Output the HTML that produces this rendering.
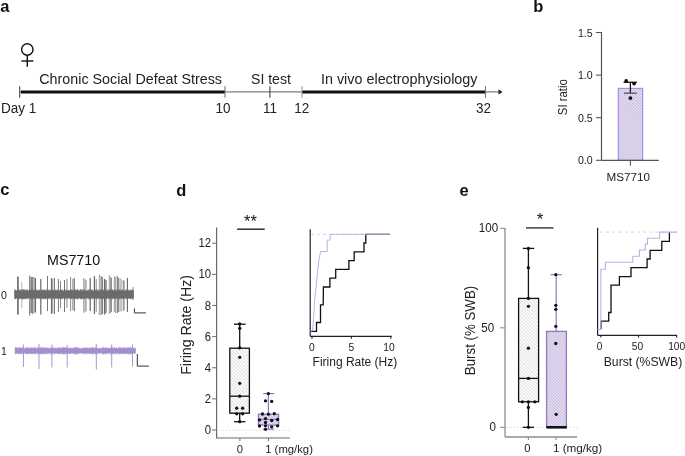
<!DOCTYPE html>
<html><head><meta charset="utf-8"><style>
html,body{margin:0;padding:0;background:#fff;}
body{width:685px;height:456px;overflow:hidden;}
svg{display:block;font-family:"Liberation Sans", sans-serif;will-change:transform;}
</style></head><body>
<svg width="685" height="456" viewBox="0 0 685 456">
<text transform="translate(0.2,11.8)" font-size="16.5" text-anchor="start" fill="#111" font-weight="bold" >a</text>
<text transform="translate(533.2,11.8)" font-size="16.5" text-anchor="start" fill="#111" font-weight="bold" >b</text>
<text transform="translate(0.2,194.6)" font-size="16.5" text-anchor="start" fill="#111" font-weight="bold" >c</text>
<text transform="translate(176.2,196.3)" font-size="16.5" text-anchor="start" fill="#111" font-weight="bold" >d</text>
<text transform="translate(459.6,195.8)" font-size="16.5" text-anchor="start" fill="#111" font-weight="bold" >e</text>
<circle cx="27.3" cy="49.5" r="5.7" fill="none" stroke="#111" stroke-width="1.4"/>
<line x1="27.3" y1="55.2" x2="27.3" y2="66.8" stroke="#111" stroke-width="1.4" />
<line x1="21.4" y1="61" x2="33.4" y2="61" stroke="#111" stroke-width="1.4" />
<line x1="19.7" y1="91.9" x2="500" y2="91.9" stroke="#7f7f7f" stroke-width="1.1" />
<path d="M498.5,89.3 L502.6,91.9 L498.5,94.5 Z" fill="#222"/>
<line x1="21" y1="92" x2="225" y2="92" stroke="#111" stroke-width="3.2" />
<line x1="302" y1="92" x2="485.5" y2="92" stroke="#111" stroke-width="3.2" />
<line x1="19.7" y1="86.3" x2="19.7" y2="97.7" stroke="#444" stroke-width="1.1" />
<line x1="225" y1="86.3" x2="225" y2="97.7" stroke="#777" stroke-width="1.1" />
<line x1="269.9" y1="86.3" x2="269.9" y2="97.7" stroke="#444" stroke-width="1.1" />
<line x1="302" y1="86.3" x2="302" y2="97.7" stroke="#999" stroke-width="1.1" />
<line x1="485.5" y1="86.3" x2="485.5" y2="97.7" stroke="#777" stroke-width="1.1" />
<text transform="translate(39.3,83.6) scale(0.98,1)" font-size="14.6" text-anchor="start" fill="#222" font-weight="normal" >Chronic Social Defeat Stress</text>
<text transform="translate(251.0,83.6) scale(0.965,1)" font-size="14.6" text-anchor="start" fill="#222" font-weight="normal" >SI test</text>
<text transform="translate(320.9,83.6) scale(0.985,1)" font-size="14.6" text-anchor="start" fill="#222" font-weight="normal" >In vivo electrophysiology</text>
<text transform="translate(0.9,113.2) scale(0.95,1)" font-size="14.3" text-anchor="start" fill="#222" font-weight="normal" >Day 1</text>
<text transform="translate(223.0,113.1) scale(0.93,1)" font-size="14.5" text-anchor="middle" fill="#222" font-weight="normal" >10</text>
<text transform="translate(269.9,113.1) scale(0.93,1)" font-size="14.5" text-anchor="middle" fill="#222" font-weight="normal" >11</text>
<text transform="translate(301.7,113.1) scale(0.93,1)" font-size="14.5" text-anchor="middle" fill="#222" font-weight="normal" >12</text>
<text transform="translate(483.5,113.1) scale(0.93,1)" font-size="14.5" text-anchor="middle" fill="#222" font-weight="normal" >32</text>
<defs><pattern id="hp" patternUnits="userSpaceOnUse" width="2.1" height="2.1" patternTransform="rotate(-45)"><rect width="2.1" height="2.1" fill="#e9e3f2"/><rect x="0" y="0" width="1.0" height="2.1" fill="#c8bae0"/></pattern><pattern id="hg" patternUnits="userSpaceOnUse" width="2.4" height="2.4" patternTransform="rotate(-45)"><rect width="2.4" height="2.4" fill="#fcfcfc"/><rect x="0" y="0" width="0.85" height="2.4" fill="#dedede"/></pattern></defs>
<rect x="618.3" y="88.4" width="24.3" height="71.9" fill="url(#hp)" stroke="#a58cf0" stroke-width="1.2"/>
<line x1="601.5" y1="32.1" x2="601.5" y2="160.3" stroke="#555" stroke-width="1.2" />
<line x1="601.5" y1="160.3" x2="658.8" y2="160.3" stroke="#555" stroke-width="1.2" />
<line x1="595.9" y1="32.5" x2="601.5" y2="32.5" stroke="#555" stroke-width="1.1" />
<text transform="translate(592.7,36.6)" font-size="10.6" text-anchor="end" fill="#222" font-weight="normal" >1.5</text>
<line x1="595.9" y1="75.10000000000001" x2="601.5" y2="75.10000000000001" stroke="#555" stroke-width="1.1" />
<text transform="translate(592.7,79.2)" font-size="10.6" text-anchor="end" fill="#222" font-weight="normal" >1.0</text>
<line x1="595.9" y1="117.70000000000002" x2="601.5" y2="117.70000000000002" stroke="#555" stroke-width="1.1" />
<text transform="translate(592.7,121.80000000000001)" font-size="10.6" text-anchor="end" fill="#222" font-weight="normal" >0.5</text>
<line x1="595.9" y1="160.3" x2="601.5" y2="160.3" stroke="#555" stroke-width="1.1" />
<text transform="translate(592.7,164.4)" font-size="10.6" text-anchor="end" fill="#222" font-weight="normal" >0.0</text>
<line x1="630.4" y1="160.3" x2="630.4" y2="165.8" stroke="#555" stroke-width="1.1" />
<line x1="630.4" y1="82.3" x2="630.4" y2="93.2" stroke="#111" stroke-width="1.2" />
<line x1="623.6" y1="82.3" x2="637" y2="82.3" stroke="#111" stroke-width="1.3" />
<line x1="624" y1="93.2" x2="636.8" y2="93.2" stroke="#555" stroke-width="1.3" />
<circle cx="626.2" cy="81" r="1.9" fill="#111"/>
<circle cx="634.1" cy="83.6" r="1.9" fill="#111"/>
<circle cx="630.4" cy="98.1" r="1.9" fill="#111"/>
<text transform="translate(628.3,181.2)" font-size="11.7" text-anchor="middle" fill="#222" font-weight="normal" >MS7710</text>
<text transform="translate(567.1,97.15) rotate(-90) scale(0.92,1)" font-size="12.4" text-anchor="middle" fill="#222" font-weight="normal" >SI ratio</text>
<text transform="translate(73.6,264.9)" font-size="14.3" text-anchor="middle" fill="#111" font-weight="normal" >MS7710</text>
<text transform="translate(1.0,299.4)" font-size="10.5" text-anchor="start" fill="#222" font-weight="normal" >0</text>
<text transform="translate(1.0,355.3)" font-size="10.5" text-anchor="start" fill="#222" font-weight="normal" >1</text>
<line x1="17.9" y1="276.5" x2="17.9" y2="314.4" stroke="#666" stroke-width="1.6" />
<line x1="21.8" y1="282" x2="21.8" y2="308.3" stroke="#b5b5b5" stroke-width="1" />
<line x1="29.7" y1="275.5" x2="29.7" y2="315.4" stroke="#777" stroke-width="1.1" />
<line x1="31.2" y1="277" x2="31.2" y2="313" stroke="#666" stroke-width="1.2" />
<line x1="32.6" y1="277" x2="32.6" y2="314" stroke="#8a8a8a" stroke-width="1.2" />
<line x1="34" y1="277" x2="34" y2="313" stroke="#999" stroke-width="1.2" />
<line x1="35.4" y1="278" x2="35.4" y2="312.5" stroke="#6a6a6a" stroke-width="1.3" />
<line x1="40.8" y1="279" x2="40.8" y2="314.5" stroke="#666" stroke-width="1.2" />
<line x1="47.5" y1="276" x2="47.5" y2="311" stroke="#777" stroke-width="1" />
<line x1="51.4" y1="278" x2="51.4" y2="314" stroke="#666" stroke-width="1" />
<line x1="52.6" y1="279" x2="52.6" y2="313" stroke="#999" stroke-width="1" />
<line x1="54.4" y1="278" x2="54.4" y2="314" stroke="#777" stroke-width="1.1" />
<line x1="58.4" y1="279" x2="58.4" y2="312" stroke="#777" stroke-width="1" />
<line x1="60.5" y1="281" x2="60.5" y2="308" stroke="#888" stroke-width="1" />
<line x1="64.5" y1="280" x2="64.5" y2="312" stroke="#777" stroke-width="1" />
<line x1="67" y1="279" x2="67" y2="308" stroke="#888" stroke-width="1" />
<line x1="70.6" y1="277" x2="70.6" y2="311" stroke="#888" stroke-width="1" />
<line x1="72.6" y1="279" x2="72.6" y2="310" stroke="#aaa" stroke-width="1" />
<line x1="74.2" y1="278" x2="74.2" y2="311" stroke="#666" stroke-width="1.2" />
<line x1="83.6" y1="278" x2="83.6" y2="313" stroke="#aaa" stroke-width="1.1" />
<line x1="85.1" y1="279" x2="85.1" y2="312" stroke="#888" stroke-width="1" />
<line x1="86.1" y1="280" x2="86.1" y2="311" stroke="#999" stroke-width="1" />
<line x1="90.2" y1="278" x2="90.2" y2="311" stroke="#666" stroke-width="1.2" />
<line x1="94.4" y1="276" x2="94.4" y2="314" stroke="#666" stroke-width="1.2" />
<line x1="96.2" y1="279" x2="96.2" y2="312" stroke="#888" stroke-width="1" />
<line x1="99.4" y1="274.5" x2="99.4" y2="315" stroke="#aaa" stroke-width="1.2" />
<line x1="101.1" y1="276" x2="101.1" y2="315" stroke="#8a8a8a" stroke-width="1.2" />
<line x1="102.3" y1="277" x2="102.3" y2="314" stroke="#777" stroke-width="1.2" />
<line x1="104.6" y1="279" x2="104.6" y2="314.5" stroke="#666" stroke-width="1.4" />
<line x1="106" y1="280" x2="106" y2="313" stroke="#6d6d6d" stroke-width="1.2" />
<line x1="109.4" y1="275" x2="109.4" y2="314" stroke="#b0b0b0" stroke-width="1.2" />
<line x1="110.6" y1="277" x2="110.6" y2="313" stroke="#999" stroke-width="1.1" />
<line x1="111.4" y1="278" x2="111.4" y2="312" stroke="#888" stroke-width="1" />
<line x1="114.4" y1="276" x2="114.4" y2="312" stroke="#b0b0b0" stroke-width="1.2" />
<line x1="115.3" y1="277" x2="115.3" y2="313" stroke="#999" stroke-width="1" />
<line x1="117.3" y1="276" x2="117.3" y2="313" stroke="#7a7a7a" stroke-width="1.2" />
<line x1="118.4" y1="278" x2="118.4" y2="312" stroke="#888" stroke-width="1" />
<line x1="120.0" y1="278" x2="120.0" y2="312" stroke="#b0b0b0" stroke-width="1.2" />
<line x1="121.2" y1="279" x2="121.2" y2="311" stroke="#aaa" stroke-width="1" />
<line x1="123.3" y1="280" x2="123.3" y2="311" stroke="#888" stroke-width="1.1" />
<line x1="124.2" y1="281" x2="124.2" y2="310" stroke="#999" stroke-width="1" />
<line x1="127.4" y1="278" x2="127.4" y2="312" stroke="#666" stroke-width="1.1" />
<line x1="133.0" y1="287" x2="133.0" y2="300" stroke="#888" stroke-width="1" />
<line x1="53.27" y1="290.37" x2="53.27" y2="298.38" stroke="#6e6e6e" stroke-width="0.5" />
<line x1="92.13" y1="290.49" x2="92.13" y2="298.29" stroke="#6e6e6e" stroke-width="0.5" />
<line x1="78.46" y1="290.05" x2="78.46" y2="298.64" stroke="#6e6e6e" stroke-width="0.5" />
<line x1="21.69" y1="289.84" x2="21.69" y2="298.81" stroke="#6e6e6e" stroke-width="0.5" />
<line x1="19.25" y1="289.95" x2="19.25" y2="298.72" stroke="#6e6e6e" stroke-width="0.5" />
<line x1="23.1" y1="290.46" x2="23.1" y2="298.31" stroke="#6e6e6e" stroke-width="0.5" />
<line x1="65.23" y1="289.36" x2="65.23" y2="299.19" stroke="#6e6e6e" stroke-width="0.5" />
<line x1="29.51" y1="290.27" x2="29.51" y2="298.47" stroke="#6e6e6e" stroke-width="0.5" />
<line x1="89.34" y1="289.18" x2="89.34" y2="299.34" stroke="#6e6e6e" stroke-width="0.5" />
<line x1="83.36" y1="290.0" x2="83.36" y2="298.68" stroke="#6e6e6e" stroke-width="0.5" />
<line x1="130.78" y1="290.53" x2="130.78" y2="298.26" stroke="#6e6e6e" stroke-width="0.5" />
<line x1="116.79" y1="290.17" x2="116.79" y2="298.55" stroke="#6e6e6e" stroke-width="0.5" />
<line x1="31.94" y1="290.42" x2="31.94" y2="298.34" stroke="#6e6e6e" stroke-width="0.5" />
<line x1="51.45" y1="289.38" x2="51.45" y2="299.18" stroke="#6e6e6e" stroke-width="0.5" />
<line x1="36.27" y1="289.73" x2="36.27" y2="298.9" stroke="#6e6e6e" stroke-width="0.5" />
<line x1="90.7" y1="290.04" x2="90.7" y2="298.65" stroke="#6e6e6e" stroke-width="0.5" />
<line x1="79.87" y1="290.51" x2="79.87" y2="298.28" stroke="#6e6e6e" stroke-width="0.5" />
<line x1="21.88" y1="290.29" x2="21.88" y2="298.45" stroke="#6e6e6e" stroke-width="0.5" />
<line x1="95.63" y1="289.96" x2="95.63" y2="298.71" stroke="#6e6e6e" stroke-width="0.5" />
<line x1="52.12" y1="289.72" x2="52.12" y2="298.9" stroke="#6e6e6e" stroke-width="0.5" />
<line x1="68.64" y1="290.15" x2="68.64" y2="298.56" stroke="#6e6e6e" stroke-width="0.5" />
<line x1="109.17" y1="289.55" x2="109.17" y2="299.04" stroke="#6e6e6e" stroke-width="0.5" />
<line x1="43.8" y1="289.74" x2="43.8" y2="298.89" stroke="#6e6e6e" stroke-width="0.5" />
<line x1="77.19" y1="289.29" x2="77.19" y2="299.25" stroke="#6e6e6e" stroke-width="0.5" />
<line x1="101.46" y1="290.17" x2="101.46" y2="298.55" stroke="#6e6e6e" stroke-width="0.5" />
<line x1="131.24" y1="290.42" x2="131.24" y2="298.34" stroke="#6e6e6e" stroke-width="0.5" />
<line x1="64.47" y1="289.46" x2="64.47" y2="299.11" stroke="#6e6e6e" stroke-width="0.5" />
<line x1="32.86" y1="289.87" x2="32.86" y2="298.79" stroke="#6e6e6e" stroke-width="0.5" />
<line x1="19.46" y1="289.6" x2="19.46" y2="299.0" stroke="#6e6e6e" stroke-width="0.5" />
<line x1="105.63" y1="289.74" x2="105.63" y2="298.89" stroke="#6e6e6e" stroke-width="0.5" />
<line x1="118.81" y1="290.13" x2="118.81" y2="298.58" stroke="#6e6e6e" stroke-width="0.5" />
<line x1="97.4" y1="289.71" x2="97.4" y2="298.91" stroke="#6e6e6e" stroke-width="0.5" />
<line x1="83.69" y1="289.92" x2="83.69" y2="298.75" stroke="#6e6e6e" stroke-width="0.5" />
<line x1="114.59" y1="289.18" x2="114.59" y2="299.33" stroke="#6e6e6e" stroke-width="0.5" />
<line x1="71.12" y1="289.6" x2="71.12" y2="299.0" stroke="#6e6e6e" stroke-width="0.5" />
<line x1="22.01" y1="289.55" x2="22.01" y2="299.04" stroke="#6e6e6e" stroke-width="0.5" />
<line x1="91.68" y1="289.11" x2="91.68" y2="299.39" stroke="#6e6e6e" stroke-width="0.5" />
<line x1="112.44" y1="290.17" x2="112.44" y2="298.54" stroke="#6e6e6e" stroke-width="0.5" />
<line x1="60.63" y1="289.6" x2="60.63" y2="299.0" stroke="#6e6e6e" stroke-width="0.5" />
<line x1="17.48" y1="289.91" x2="17.48" y2="298.75" stroke="#6e6e6e" stroke-width="0.5" />
<line x1="34.76" y1="290.42" x2="34.76" y2="298.34" stroke="#6e6e6e" stroke-width="0.5" />
<line x1="21.8" y1="289.45" x2="21.8" y2="299.12" stroke="#6e6e6e" stroke-width="0.5" />
<line x1="30.17" y1="290.23" x2="30.17" y2="298.5" stroke="#6e6e6e" stroke-width="0.5" />
<line x1="61.24" y1="289.29" x2="61.24" y2="299.25" stroke="#6e6e6e" stroke-width="0.5" />
<line x1="24.37" y1="289.93" x2="24.37" y2="298.74" stroke="#6e6e6e" stroke-width="0.5" />
<line x1="80.07" y1="289.27" x2="80.07" y2="299.26" stroke="#6e6e6e" stroke-width="0.5" />
<line x1="112.13" y1="289.3" x2="112.13" y2="299.24" stroke="#6e6e6e" stroke-width="0.5" />
<line x1="47.88" y1="289.98" x2="47.88" y2="298.7" stroke="#6e6e6e" stroke-width="0.5" />
<line x1="57.42" y1="289.27" x2="57.42" y2="299.26" stroke="#6e6e6e" stroke-width="0.5" />
<line x1="128.58" y1="290.37" x2="128.58" y2="298.38" stroke="#6e6e6e" stroke-width="0.5" />
<line x1="35.73" y1="290.25" x2="35.73" y2="298.48" stroke="#6e6e6e" stroke-width="0.5" />
<line x1="42.52" y1="289.87" x2="42.52" y2="298.78" stroke="#6e6e6e" stroke-width="0.5" />
<line x1="84.79" y1="290.21" x2="84.79" y2="298.52" stroke="#6e6e6e" stroke-width="0.5" />
<line x1="15.29" y1="289.97" x2="15.29" y2="298.7" stroke="#6e6e6e" stroke-width="0.5" />
<line x1="58.67" y1="289.75" x2="58.67" y2="298.88" stroke="#6e6e6e" stroke-width="0.5" />
<line x1="128.03" y1="289.56" x2="128.03" y2="299.03" stroke="#6e6e6e" stroke-width="0.5" />
<line x1="76.04" y1="289.67" x2="76.04" y2="298.94" stroke="#6e6e6e" stroke-width="0.5" />
<line x1="95.13" y1="290.52" x2="95.13" y2="298.26" stroke="#6e6e6e" stroke-width="0.5" />
<line x1="121.66" y1="289.43" x2="121.66" y2="299.14" stroke="#6e6e6e" stroke-width="0.5" />
<line x1="118.69" y1="289.4" x2="118.69" y2="299.16" stroke="#6e6e6e" stroke-width="0.5" />
<line x1="61.41" y1="290.0" x2="61.41" y2="298.68" stroke="#6e6e6e" stroke-width="0.5" />
<line x1="27.1" y1="289.65" x2="27.1" y2="298.96" stroke="#6e6e6e" stroke-width="0.5" />
<line x1="22.2" y1="290.5" x2="22.2" y2="298.28" stroke="#6e6e6e" stroke-width="0.5" />
<line x1="39.6" y1="290.36" x2="39.6" y2="298.39" stroke="#6e6e6e" stroke-width="0.5" />
<line x1="55.2" y1="290.52" x2="55.2" y2="298.26" stroke="#6e6e6e" stroke-width="0.5" />
<line x1="14.83" y1="290.37" x2="14.83" y2="298.38" stroke="#6e6e6e" stroke-width="0.5" />
<line x1="26.85" y1="290.05" x2="26.85" y2="298.64" stroke="#6e6e6e" stroke-width="0.5" />
<line x1="17.83" y1="289.29" x2="17.83" y2="299.25" stroke="#6e6e6e" stroke-width="0.5" />
<line x1="87.75" y1="290.38" x2="87.75" y2="298.38" stroke="#6e6e6e" stroke-width="0.5" />
<line x1="44.77" y1="290.08" x2="44.77" y2="298.62" stroke="#6e6e6e" stroke-width="0.5" />
<line x1="58.06" y1="290.42" x2="58.06" y2="298.35" stroke="#6e6e6e" stroke-width="0.5" />
<line x1="115.65" y1="289.11" x2="115.65" y2="299.39" stroke="#6e6e6e" stroke-width="0.5" />
<line x1="70.16" y1="289.87" x2="70.16" y2="298.78" stroke="#6e6e6e" stroke-width="0.5" />
<line x1="25.0" y1="290.45" x2="25.0" y2="298.32" stroke="#6e6e6e" stroke-width="0.5" />
<line x1="55.51" y1="290.2" x2="55.51" y2="298.52" stroke="#6e6e6e" stroke-width="0.5" />
<line x1="113.27" y1="290.36" x2="113.27" y2="298.39" stroke="#6e6e6e" stroke-width="0.5" />
<line x1="17.54" y1="289.17" x2="17.54" y2="299.34" stroke="#6e6e6e" stroke-width="0.5" />
<line x1="77.56" y1="290.38" x2="77.56" y2="298.38" stroke="#6e6e6e" stroke-width="0.5" />
<line x1="79.33" y1="290.56" x2="79.33" y2="298.23" stroke="#6e6e6e" stroke-width="0.5" />
<line x1="77.54" y1="289.13" x2="77.54" y2="299.37" stroke="#6e6e6e" stroke-width="0.5" />
<line x1="117.36" y1="289.56" x2="117.36" y2="299.04" stroke="#6e6e6e" stroke-width="0.5" />
<line x1="45.82" y1="290.05" x2="45.82" y2="298.64" stroke="#6e6e6e" stroke-width="0.5" />
<line x1="34.64" y1="289.44" x2="34.64" y2="299.13" stroke="#6e6e6e" stroke-width="0.5" />
<line x1="78.07" y1="289.43" x2="78.07" y2="299.13" stroke="#6e6e6e" stroke-width="0.5" />
<line x1="53.96" y1="290.27" x2="53.96" y2="298.47" stroke="#6e6e6e" stroke-width="0.5" />
<line x1="111.21" y1="289.12" x2="111.21" y2="299.38" stroke="#6e6e6e" stroke-width="0.5" />
<line x1="116.09" y1="289.39" x2="116.09" y2="299.17" stroke="#6e6e6e" stroke-width="0.5" />
<line x1="112.02" y1="289.49" x2="112.02" y2="299.09" stroke="#6e6e6e" stroke-width="0.5" />
<line x1="41.74" y1="289.82" x2="41.74" y2="298.82" stroke="#6e6e6e" stroke-width="0.5" />
<line x1="57.04" y1="290.56" x2="57.04" y2="298.23" stroke="#6e6e6e" stroke-width="0.5" />
<line x1="18.12" y1="290.18" x2="18.12" y2="298.54" stroke="#6e6e6e" stroke-width="0.5" />
<line x1="45.59" y1="289.56" x2="45.59" y2="299.03" stroke="#6e6e6e" stroke-width="0.5" />
<line x1="128.43" y1="289.93" x2="128.43" y2="298.74" stroke="#6e6e6e" stroke-width="0.5" />
<line x1="126.12" y1="289.12" x2="126.12" y2="299.39" stroke="#6e6e6e" stroke-width="0.5" />
<line x1="128.25" y1="290.05" x2="128.25" y2="298.64" stroke="#6e6e6e" stroke-width="0.5" />
<line x1="40.99" y1="290.26" x2="40.99" y2="298.47" stroke="#6e6e6e" stroke-width="0.5" />
<line x1="38.17" y1="290.29" x2="38.17" y2="298.45" stroke="#6e6e6e" stroke-width="0.5" />
<line x1="88.94" y1="289.25" x2="88.94" y2="299.28" stroke="#6e6e6e" stroke-width="0.5" />
<line x1="114.64" y1="289.88" x2="114.64" y2="298.78" stroke="#6e6e6e" stroke-width="0.5" />
<line x1="92.37" y1="289.4" x2="92.37" y2="299.16" stroke="#6e6e6e" stroke-width="0.5" />
<line x1="24.87" y1="289.61" x2="24.87" y2="298.99" stroke="#6e6e6e" stroke-width="0.5" />
<line x1="122.88" y1="289.43" x2="122.88" y2="299.14" stroke="#6e6e6e" stroke-width="0.5" />
<line x1="103.92" y1="289.88" x2="103.92" y2="298.77" stroke="#6e6e6e" stroke-width="0.5" />
<line x1="36.01" y1="289.42" x2="36.01" y2="299.15" stroke="#6e6e6e" stroke-width="0.5" />
<line x1="54.3" y1="289.4" x2="54.3" y2="299.16" stroke="#6e6e6e" stroke-width="0.5" />
<line x1="130.23" y1="290.01" x2="130.23" y2="298.68" stroke="#6e6e6e" stroke-width="0.5" />
<line x1="62.48" y1="289.18" x2="62.48" y2="299.34" stroke="#6e6e6e" stroke-width="0.5" />
<line x1="100.91" y1="290.34" x2="100.91" y2="298.4" stroke="#6e6e6e" stroke-width="0.5" />
<line x1="29.89" y1="290.37" x2="29.89" y2="298.38" stroke="#6e6e6e" stroke-width="0.5" />
<line x1="122.3" y1="289.39" x2="122.3" y2="299.17" stroke="#6e6e6e" stroke-width="0.5" />
<line x1="32.17" y1="289.36" x2="32.17" y2="299.19" stroke="#6e6e6e" stroke-width="0.5" />
<line x1="131.26" y1="289.61" x2="131.26" y2="298.99" stroke="#6e6e6e" stroke-width="0.5" />
<line x1="56.43" y1="289.78" x2="56.43" y2="298.86" stroke="#6e6e6e" stroke-width="0.5" />
<line x1="30.36" y1="290.58" x2="30.36" y2="298.22" stroke="#6e6e6e" stroke-width="0.5" />
<line x1="130.14" y1="289.63" x2="130.14" y2="298.98" stroke="#6e6e6e" stroke-width="0.5" />
<line x1="77.36" y1="289.2" x2="77.36" y2="299.32" stroke="#6e6e6e" stroke-width="0.5" />
<line x1="66.34" y1="289.29" x2="66.34" y2="299.25" stroke="#6e6e6e" stroke-width="0.5" />
<line x1="112.95" y1="290.28" x2="112.95" y2="298.45" stroke="#6e6e6e" stroke-width="0.5" />
<line x1="44.72" y1="290.16" x2="44.72" y2="298.55" stroke="#6e6e6e" stroke-width="0.5" />
<line x1="43.38" y1="289.72" x2="43.38" y2="298.9" stroke="#6e6e6e" stroke-width="0.5" />
<line x1="45.61" y1="289.97" x2="45.61" y2="298.7" stroke="#6e6e6e" stroke-width="0.5" />
<line x1="30.37" y1="289.23" x2="30.37" y2="299.29" stroke="#6e6e6e" stroke-width="0.5" />
<line x1="56.83" y1="289.91" x2="56.83" y2="298.75" stroke="#6e6e6e" stroke-width="0.5" />
<line x1="84.1" y1="289.24" x2="84.1" y2="299.29" stroke="#6e6e6e" stroke-width="0.5" />
<line x1="64.77" y1="289.22" x2="64.77" y2="299.3" stroke="#6e6e6e" stroke-width="0.5" />
<line x1="74.4" y1="289.8" x2="74.4" y2="298.84" stroke="#6e6e6e" stroke-width="0.5" />
<line x1="76.99" y1="290.57" x2="76.99" y2="298.22" stroke="#6e6e6e" stroke-width="0.5" />
<line x1="67.09" y1="290.33" x2="67.09" y2="298.42" stroke="#6e6e6e" stroke-width="0.5" />
<line x1="15.27" y1="289.4" x2="15.27" y2="299.16" stroke="#6e6e6e" stroke-width="0.5" />
<line x1="35.27" y1="289.89" x2="35.27" y2="298.77" stroke="#6e6e6e" stroke-width="0.5" />
<line x1="100.95" y1="289.77" x2="100.95" y2="298.87" stroke="#6e6e6e" stroke-width="0.5" />
<line x1="53.53" y1="289.82" x2="53.53" y2="298.82" stroke="#6e6e6e" stroke-width="0.5" />
<line x1="80.79" y1="289.42" x2="80.79" y2="299.14" stroke="#6e6e6e" stroke-width="0.5" />
<line x1="27.41" y1="289.76" x2="27.41" y2="298.87" stroke="#6e6e6e" stroke-width="0.5" />
<line x1="44.32" y1="290.18" x2="44.32" y2="298.53" stroke="#6e6e6e" stroke-width="0.5" />
<line x1="106.54" y1="289.84" x2="106.54" y2="298.81" stroke="#6e6e6e" stroke-width="0.5" />
<line x1="81.53" y1="289.46" x2="81.53" y2="299.11" stroke="#6e6e6e" stroke-width="0.5" />
<line x1="123.2" y1="289.94" x2="123.2" y2="298.73" stroke="#6e6e6e" stroke-width="0.5" />
<line x1="87.57" y1="289.84" x2="87.57" y2="298.81" stroke="#6e6e6e" stroke-width="0.5" />
<line x1="75.64" y1="289.56" x2="75.64" y2="299.03" stroke="#6e6e6e" stroke-width="0.5" />
<line x1="68.54" y1="289.8" x2="68.54" y2="298.84" stroke="#6e6e6e" stroke-width="0.5" />
<line x1="71.59" y1="289.19" x2="71.59" y2="299.33" stroke="#6e6e6e" stroke-width="0.5" />
<line x1="97.87" y1="289.29" x2="97.87" y2="299.25" stroke="#6e6e6e" stroke-width="0.5" />
<line x1="126.73" y1="290.21" x2="126.73" y2="298.51" stroke="#6e6e6e" stroke-width="0.5" />
<line x1="81.27" y1="289.19" x2="81.27" y2="299.33" stroke="#6e6e6e" stroke-width="0.5" />
<line x1="114.59" y1="290.39" x2="114.59" y2="298.36" stroke="#6e6e6e" stroke-width="0.5" />
<line x1="29.25" y1="289.94" x2="29.25" y2="298.73" stroke="#6e6e6e" stroke-width="0.5" />
<line x1="23.42" y1="290.24" x2="23.42" y2="298.49" stroke="#6e6e6e" stroke-width="0.5" />
<line x1="23.49" y1="289.6" x2="23.49" y2="299.0" stroke="#6e6e6e" stroke-width="0.5" />
<line x1="107.93" y1="289.25" x2="107.93" y2="299.28" stroke="#6e6e6e" stroke-width="0.5" />
<line x1="33.15" y1="289.53" x2="33.15" y2="299.06" stroke="#6e6e6e" stroke-width="0.5" />
<line x1="93.24" y1="290.39" x2="93.24" y2="298.37" stroke="#6e6e6e" stroke-width="0.5" />
<line x1="119.68" y1="289.15" x2="119.68" y2="299.36" stroke="#6e6e6e" stroke-width="0.5" />
<line x1="40.89" y1="289.17" x2="40.89" y2="299.34" stroke="#6e6e6e" stroke-width="0.5" />
<line x1="62.11" y1="289.87" x2="62.11" y2="298.78" stroke="#6e6e6e" stroke-width="0.5" />
<line x1="132.4" y1="289.35" x2="132.4" y2="299.2" stroke="#6e6e6e" stroke-width="0.5" />
<line x1="33.98" y1="289.95" x2="33.98" y2="298.72" stroke="#6e6e6e" stroke-width="0.5" />
<line x1="76.05" y1="290.09" x2="76.05" y2="298.61" stroke="#6e6e6e" stroke-width="0.5" />
<line x1="38.05" y1="290.12" x2="38.05" y2="298.58" stroke="#6e6e6e" stroke-width="0.5" />
<line x1="100.59" y1="290.57" x2="100.59" y2="298.22" stroke="#6e6e6e" stroke-width="0.5" />
<line x1="80.62" y1="289.94" x2="80.62" y2="298.73" stroke="#6e6e6e" stroke-width="0.5" />
<line x1="16.95" y1="290.1" x2="16.95" y2="298.6" stroke="#6e6e6e" stroke-width="0.5" />
<line x1="88.92" y1="289.83" x2="88.92" y2="298.81" stroke="#6e6e6e" stroke-width="0.5" />
<line x1="22.44" y1="289.12" x2="22.44" y2="299.38" stroke="#6e6e6e" stroke-width="0.5" />
<line x1="108.46" y1="289.14" x2="108.46" y2="299.37" stroke="#6e6e6e" stroke-width="0.5" />
<line x1="27.25" y1="290.2" x2="27.25" y2="298.52" stroke="#6e6e6e" stroke-width="0.5" />
<line x1="19.5" y1="289.43" x2="19.5" y2="299.13" stroke="#6e6e6e" stroke-width="0.5" />
<line x1="46.93" y1="290.41" x2="46.93" y2="298.36" stroke="#6e6e6e" stroke-width="0.5" />
<line x1="64.96" y1="289.23" x2="64.96" y2="299.29" stroke="#6e6e6e" stroke-width="0.5" />
<line x1="112.09" y1="290.21" x2="112.09" y2="298.51" stroke="#6e6e6e" stroke-width="0.5" />
<line x1="32.54" y1="289.22" x2="32.54" y2="299.3" stroke="#6e6e6e" stroke-width="0.5" />
<line x1="82.59" y1="289.55" x2="82.59" y2="299.04" stroke="#6e6e6e" stroke-width="0.5" />
<line x1="25.43" y1="290.51" x2="25.43" y2="298.27" stroke="#6e6e6e" stroke-width="0.5" />
<line x1="96.56" y1="289.96" x2="96.56" y2="298.71" stroke="#6e6e6e" stroke-width="0.5" />
<line x1="23.4" y1="289.19" x2="23.4" y2="299.33" stroke="#6e6e6e" stroke-width="0.5" />
<line x1="90.17" y1="289.4" x2="90.17" y2="299.16" stroke="#6e6e6e" stroke-width="0.5" />
<line x1="24.75" y1="289.32" x2="24.75" y2="299.23" stroke="#6e6e6e" stroke-width="0.5" />
<line x1="22.71" y1="289.31" x2="22.71" y2="299.24" stroke="#6e6e6e" stroke-width="0.5" />
<line x1="68.71" y1="290.09" x2="68.71" y2="298.61" stroke="#6e6e6e" stroke-width="0.5" />
<line x1="80.5" y1="289.21" x2="80.5" y2="299.31" stroke="#6e6e6e" stroke-width="0.5" />
<line x1="46.62" y1="290.41" x2="46.62" y2="298.36" stroke="#6e6e6e" stroke-width="0.5" />
<line x1="77.4" y1="290.24" x2="77.4" y2="298.49" stroke="#6e6e6e" stroke-width="0.5" />
<line x1="27.8" y1="290.36" x2="27.8" y2="298.39" stroke="#6e6e6e" stroke-width="0.5" />
<line x1="20.79" y1="290.3" x2="20.79" y2="298.44" stroke="#6e6e6e" stroke-width="0.5" />
<line x1="51.86" y1="290.14" x2="51.86" y2="298.57" stroke="#6e6e6e" stroke-width="0.5" />
<line x1="105.03" y1="290.17" x2="105.03" y2="298.55" stroke="#6e6e6e" stroke-width="0.5" />
<line x1="74.21" y1="290.33" x2="74.21" y2="298.41" stroke="#6e6e6e" stroke-width="0.5" />
<line x1="56.02" y1="290.57" x2="56.02" y2="298.22" stroke="#6e6e6e" stroke-width="0.5" />
<line x1="44.55" y1="290.58" x2="44.55" y2="298.22" stroke="#6e6e6e" stroke-width="0.5" />
<line x1="101.89" y1="289.77" x2="101.89" y2="298.86" stroke="#6e6e6e" stroke-width="0.5" />
<line x1="37.31" y1="289.89" x2="37.31" y2="298.77" stroke="#6e6e6e" stroke-width="0.5" />
<line x1="125.84" y1="290.44" x2="125.84" y2="298.33" stroke="#6e6e6e" stroke-width="0.5" />
<line x1="112.09" y1="289.95" x2="112.09" y2="298.72" stroke="#6e6e6e" stroke-width="0.5" />
<line x1="73.61" y1="289.35" x2="73.61" y2="299.2" stroke="#6e6e6e" stroke-width="0.5" />
<line x1="61.5" y1="289.84" x2="61.5" y2="298.81" stroke="#6e6e6e" stroke-width="0.5" />
<line x1="96.5" y1="289.13" x2="96.5" y2="299.38" stroke="#6e6e6e" stroke-width="0.5" />
<line x1="55.51" y1="289.35" x2="55.51" y2="299.2" stroke="#6e6e6e" stroke-width="0.5" />
<line x1="98.76" y1="289.65" x2="98.76" y2="298.96" stroke="#6e6e6e" stroke-width="0.5" />
<line x1="62.88" y1="290.08" x2="62.88" y2="298.62" stroke="#6e6e6e" stroke-width="0.5" />
<line x1="21.26" y1="290.41" x2="21.26" y2="298.36" stroke="#6e6e6e" stroke-width="0.5" />
<line x1="23.2" y1="289.49" x2="23.2" y2="299.09" stroke="#6e6e6e" stroke-width="0.5" />
<line x1="45.16" y1="290.36" x2="45.16" y2="298.4" stroke="#6e6e6e" stroke-width="0.5" />
<line x1="24.84" y1="289.34" x2="24.84" y2="299.21" stroke="#6e6e6e" stroke-width="0.5" />
<line x1="118.22" y1="289.59" x2="118.22" y2="299.0" stroke="#6e6e6e" stroke-width="0.5" />
<line x1="48.29" y1="290.24" x2="48.29" y2="298.49" stroke="#6e6e6e" stroke-width="0.5" />
<line x1="49.62" y1="289.91" x2="49.62" y2="298.75" stroke="#6e6e6e" stroke-width="0.5" />
<line x1="33.51" y1="289.93" x2="33.51" y2="298.73" stroke="#6e6e6e" stroke-width="0.5" />
<line x1="46.07" y1="289.16" x2="46.07" y2="299.35" stroke="#6e6e6e" stroke-width="0.5" />
<line x1="130.35" y1="289.78" x2="130.35" y2="298.86" stroke="#6e6e6e" stroke-width="0.5" />
<line x1="43.84" y1="289.15" x2="43.84" y2="299.36" stroke="#6e6e6e" stroke-width="0.5" />
<line x1="51.57" y1="290.07" x2="51.57" y2="298.63" stroke="#6e6e6e" stroke-width="0.5" />
<line x1="14.93" y1="290.03" x2="14.93" y2="298.66" stroke="#6e6e6e" stroke-width="0.5" />
<line x1="71.19" y1="289.85" x2="71.19" y2="298.8" stroke="#6e6e6e" stroke-width="0.5" />
<line x1="38.68" y1="289.84" x2="38.68" y2="298.81" stroke="#6e6e6e" stroke-width="0.5" />
<line x1="15.39" y1="290.2" x2="15.39" y2="298.52" stroke="#6e6e6e" stroke-width="0.5" />
<line x1="25.46" y1="290.0" x2="25.46" y2="298.68" stroke="#6e6e6e" stroke-width="0.5" />
<line x1="19.75" y1="290.57" x2="19.75" y2="298.23" stroke="#6e6e6e" stroke-width="0.5" />
<line x1="50.94" y1="290.25" x2="50.94" y2="298.48" stroke="#6e6e6e" stroke-width="0.5" />
<line x1="84.37" y1="289.81" x2="84.37" y2="298.84" stroke="#6e6e6e" stroke-width="0.5" />
<line x1="103.96" y1="289.61" x2="103.96" y2="298.99" stroke="#6e6e6e" stroke-width="0.5" />
<line x1="99.86" y1="289.28" x2="99.86" y2="299.25" stroke="#6e6e6e" stroke-width="0.5" />
<line x1="61.07" y1="290.11" x2="61.07" y2="298.59" stroke="#6e6e6e" stroke-width="0.5" />
<line x1="131.79" y1="290.38" x2="131.79" y2="298.38" stroke="#6e6e6e" stroke-width="0.5" />
<line x1="100.83" y1="289.64" x2="100.83" y2="298.97" stroke="#6e6e6e" stroke-width="0.5" />
<line x1="20.0" y1="289.35" x2="20.0" y2="299.2" stroke="#6e6e6e" stroke-width="0.5" />
<line x1="120.76" y1="289.66" x2="120.76" y2="298.95" stroke="#6e6e6e" stroke-width="0.5" />
<line x1="101.98" y1="289.38" x2="101.98" y2="299.17" stroke="#6e6e6e" stroke-width="0.5" />
<line x1="31.35" y1="289.81" x2="31.35" y2="298.83" stroke="#6e6e6e" stroke-width="0.5" />
<line x1="74.72" y1="289.35" x2="74.72" y2="299.2" stroke="#6e6e6e" stroke-width="0.5" />
<line x1="110.4" y1="289.36" x2="110.4" y2="299.19" stroke="#6e6e6e" stroke-width="0.5" />
<line x1="84.19" y1="289.26" x2="84.19" y2="299.27" stroke="#6e6e6e" stroke-width="0.5" />
<line x1="95.93" y1="289.56" x2="95.93" y2="299.03" stroke="#6e6e6e" stroke-width="0.5" />
<line x1="42.12" y1="290.55" x2="42.12" y2="298.24" stroke="#6e6e6e" stroke-width="0.5" />
<line x1="30.61" y1="290.06" x2="30.61" y2="298.63" stroke="#6e6e6e" stroke-width="0.5" />
<line x1="27.26" y1="289.35" x2="27.26" y2="299.2" stroke="#6e6e6e" stroke-width="0.5" />
<line x1="81.15" y1="289.66" x2="81.15" y2="298.95" stroke="#6e6e6e" stroke-width="0.5" />
<line x1="89.2" y1="289.58" x2="89.2" y2="299.02" stroke="#6e6e6e" stroke-width="0.5" />
<line x1="72.93" y1="290.6" x2="72.93" y2="298.2" stroke="#6e6e6e" stroke-width="0.5" />
<line x1="109.57" y1="289.48" x2="109.57" y2="299.1" stroke="#6e6e6e" stroke-width="0.5" />
<line x1="74.55" y1="289.8" x2="74.55" y2="298.84" stroke="#6e6e6e" stroke-width="0.5" />
<line x1="93.12" y1="290.5" x2="93.12" y2="298.28" stroke="#6e6e6e" stroke-width="0.5" />
<line x1="102.33" y1="290.22" x2="102.33" y2="298.5" stroke="#6e6e6e" stroke-width="0.5" />
<line x1="23.64" y1="290.2" x2="23.64" y2="298.52" stroke="#6e6e6e" stroke-width="0.5" />
<line x1="101.45" y1="290.29" x2="101.45" y2="298.45" stroke="#6e6e6e" stroke-width="0.5" />
<line x1="102.69" y1="289.14" x2="102.69" y2="299.37" stroke="#6e6e6e" stroke-width="0.5" />
<line x1="73.48" y1="290.03" x2="73.48" y2="298.66" stroke="#6e6e6e" stroke-width="0.5" />
<line x1="71.71" y1="289.57" x2="71.71" y2="299.02" stroke="#6e6e6e" stroke-width="0.5" />
<line x1="105.92" y1="289.67" x2="105.92" y2="298.94" stroke="#6e6e6e" stroke-width="0.5" />
<line x1="91.16" y1="290.48" x2="91.16" y2="298.29" stroke="#6e6e6e" stroke-width="0.5" />
<line x1="32.31" y1="290.22" x2="32.31" y2="298.5" stroke="#6e6e6e" stroke-width="0.5" />
<line x1="103.09" y1="290.14" x2="103.09" y2="298.57" stroke="#6e6e6e" stroke-width="0.5" />
<line x1="82.25" y1="290.58" x2="82.25" y2="298.21" stroke="#6e6e6e" stroke-width="0.5" />
<line x1="22.01" y1="290.2" x2="22.01" y2="298.52" stroke="#6e6e6e" stroke-width="0.5" />
<line x1="94.63" y1="289.56" x2="94.63" y2="299.03" stroke="#6e6e6e" stroke-width="0.5" />
<line x1="95.07" y1="290.16" x2="95.07" y2="298.55" stroke="#6e6e6e" stroke-width="0.5" />
<line x1="76.16" y1="289.9" x2="76.16" y2="298.76" stroke="#6e6e6e" stroke-width="0.5" />
<line x1="70.2" y1="290.42" x2="70.2" y2="298.34" stroke="#6e6e6e" stroke-width="0.5" />
<line x1="120.97" y1="290.3" x2="120.97" y2="298.44" stroke="#6e6e6e" stroke-width="0.5" />
<line x1="131.0" y1="289.2" x2="131.0" y2="299.32" stroke="#6e6e6e" stroke-width="0.5" />
<line x1="16.88" y1="289.91" x2="16.88" y2="298.75" stroke="#6e6e6e" stroke-width="0.5" />
<line x1="112.2" y1="289.15" x2="112.2" y2="299.36" stroke="#6e6e6e" stroke-width="0.5" />
<line x1="68.19" y1="290.2" x2="68.19" y2="298.52" stroke="#6e6e6e" stroke-width="0.5" />
<line x1="39.73" y1="289.18" x2="39.73" y2="299.33" stroke="#6e6e6e" stroke-width="0.5" />
<line x1="39.83" y1="289.73" x2="39.83" y2="298.9" stroke="#6e6e6e" stroke-width="0.5" />
<line x1="31.64" y1="289.81" x2="31.64" y2="298.83" stroke="#6e6e6e" stroke-width="0.5" />
<line x1="127.99" y1="290.4" x2="127.99" y2="298.36" stroke="#6e6e6e" stroke-width="0.5" />
<line x1="112.24" y1="289.84" x2="112.24" y2="298.81" stroke="#6e6e6e" stroke-width="0.5" />
<line x1="120.16" y1="289.54" x2="120.16" y2="299.04" stroke="#6e6e6e" stroke-width="0.5" />
<line x1="42.29" y1="289.25" x2="42.29" y2="299.28" stroke="#6e6e6e" stroke-width="0.5" />
<line x1="72.55" y1="290.56" x2="72.55" y2="298.23" stroke="#6e6e6e" stroke-width="0.5" />
<line x1="15.23" y1="289.86" x2="15.23" y2="298.79" stroke="#6e6e6e" stroke-width="0.5" />
<line x1="68.35" y1="290.15" x2="68.35" y2="298.56" stroke="#6e6e6e" stroke-width="0.5" />
<line x1="31.52" y1="290.08" x2="31.52" y2="298.61" stroke="#6e6e6e" stroke-width="0.5" />
<line x1="52.35" y1="289.34" x2="52.35" y2="299.21" stroke="#6e6e6e" stroke-width="0.5" />
<line x1="15.01" y1="289.47" x2="15.01" y2="299.1" stroke="#6e6e6e" stroke-width="0.5" />
<line x1="114.49" y1="290.42" x2="114.49" y2="298.34" stroke="#6e6e6e" stroke-width="0.5" />
<line x1="124.86" y1="289.53" x2="124.86" y2="299.06" stroke="#6e6e6e" stroke-width="0.5" />
<line x1="121.91" y1="290.17" x2="121.91" y2="298.55" stroke="#6e6e6e" stroke-width="0.5" />
<line x1="59.02" y1="290.01" x2="59.02" y2="298.67" stroke="#6e6e6e" stroke-width="0.5" />
<line x1="133.46" y1="289.72" x2="133.46" y2="298.91" stroke="#6e6e6e" stroke-width="0.5" />
<line x1="57.65" y1="289.96" x2="57.65" y2="298.71" stroke="#6e6e6e" stroke-width="0.5" />
<line x1="47.49" y1="290.53" x2="47.49" y2="298.26" stroke="#6e6e6e" stroke-width="0.5" />
<line x1="26.88" y1="289.35" x2="26.88" y2="299.2" stroke="#6e6e6e" stroke-width="0.5" />
<line x1="48.73" y1="289.2" x2="48.73" y2="299.32" stroke="#6e6e6e" stroke-width="0.5" />
<line x1="44.42" y1="290.2" x2="44.42" y2="298.52" stroke="#6e6e6e" stroke-width="0.5" />
<line x1="75.5" y1="290.32" x2="75.5" y2="298.43" stroke="#6e6e6e" stroke-width="0.5" />
<line x1="59.15" y1="289.17" x2="59.15" y2="299.35" stroke="#6e6e6e" stroke-width="0.5" />
<line x1="119.85" y1="289.38" x2="119.85" y2="299.17" stroke="#6e6e6e" stroke-width="0.5" />
<line x1="89.75" y1="289.23" x2="89.75" y2="299.3" stroke="#6e6e6e" stroke-width="0.5" />
<line x1="126.56" y1="289.78" x2="126.56" y2="298.86" stroke="#6e6e6e" stroke-width="0.5" />
<line x1="100.29" y1="290.53" x2="100.29" y2="298.26" stroke="#6e6e6e" stroke-width="0.5" />
<line x1="101.8" y1="289.92" x2="101.8" y2="298.74" stroke="#6e6e6e" stroke-width="0.5" />
<line x1="104.22" y1="289.63" x2="104.22" y2="298.97" stroke="#6e6e6e" stroke-width="0.5" />
<line x1="48.8" y1="290.53" x2="48.8" y2="298.26" stroke="#6e6e6e" stroke-width="0.5" />
<line x1="124.9" y1="290.41" x2="124.9" y2="298.35" stroke="#6e6e6e" stroke-width="0.5" />
<line x1="70.9" y1="290.08" x2="70.9" y2="298.61" stroke="#6e6e6e" stroke-width="0.5" />
<line x1="50.18" y1="289.49" x2="50.18" y2="299.09" stroke="#6e6e6e" stroke-width="0.5" />
<line x1="130.78" y1="290.21" x2="130.78" y2="298.51" stroke="#6e6e6e" stroke-width="0.5" />
<line x1="92.73" y1="290.15" x2="92.73" y2="298.56" stroke="#6e6e6e" stroke-width="0.5" />
<line x1="81.01" y1="290.01" x2="81.01" y2="298.67" stroke="#6e6e6e" stroke-width="0.5" />
<rect x="14.8" y="290.6" width="118.8" height="7.599999999999966" fill="#6b6b6b"/>
<path d="M134.4,308.5 L134.4,312.9 L145.9,312.9" fill="none" stroke="#333" stroke-width="1"/>
<line x1="23.4" y1="344.5" x2="23.4" y2="367" stroke="#a995d0" stroke-width="1" />
<line x1="39" y1="344" x2="39" y2="369" stroke="#a995d0" stroke-width="1" />
<line x1="51.9" y1="344.5" x2="51.9" y2="367.5" stroke="#a995d0" stroke-width="1" />
<line x1="67.2" y1="345" x2="67.2" y2="367.5" stroke="#a995d0" stroke-width="1" />
<line x1="96.3" y1="344" x2="96.3" y2="369.5" stroke="#a995d0" stroke-width="1" />
<line x1="111.7" y1="344.5" x2="111.7" y2="367.5" stroke="#a995d0" stroke-width="1" />
<line x1="132.5" y1="344.5" x2="132.5" y2="366.5" stroke="#a995d0" stroke-width="1" />
<line x1="35.13" y1="347.96" x2="35.13" y2="353.59" stroke="#ad9bd3" stroke-width="0.5" />
<line x1="40.03" y1="346.84" x2="40.03" y2="354.49" stroke="#ad9bd3" stroke-width="0.5" />
<line x1="75.0" y1="347.87" x2="75.0" y2="353.66" stroke="#ad9bd3" stroke-width="0.5" />
<line x1="124.47" y1="346.71" x2="124.47" y2="354.6" stroke="#ad9bd3" stroke-width="0.5" />
<line x1="69.3" y1="347.99" x2="69.3" y2="353.57" stroke="#ad9bd3" stroke-width="0.5" />
<line x1="38.16" y1="348.06" x2="38.16" y2="353.51" stroke="#ad9bd3" stroke-width="0.5" />
<line x1="56.24" y1="348.06" x2="56.24" y2="353.51" stroke="#ad9bd3" stroke-width="0.5" />
<line x1="43.81" y1="347.81" x2="43.81" y2="353.71" stroke="#ad9bd3" stroke-width="0.5" />
<line x1="83.77" y1="346.87" x2="83.77" y2="354.46" stroke="#ad9bd3" stroke-width="0.5" />
<line x1="105.53" y1="347.58" x2="105.53" y2="353.9" stroke="#ad9bd3" stroke-width="0.5" />
<line x1="64.94" y1="347.41" x2="64.94" y2="354.03" stroke="#ad9bd3" stroke-width="0.5" />
<line x1="60.46" y1="347.69" x2="60.46" y2="353.81" stroke="#ad9bd3" stroke-width="0.5" />
<line x1="22.4" y1="347.78" x2="22.4" y2="353.73" stroke="#ad9bd3" stroke-width="0.5" />
<line x1="131.89" y1="348.01" x2="131.89" y2="353.55" stroke="#ad9bd3" stroke-width="0.5" />
<line x1="75.76" y1="347.26" x2="75.76" y2="354.16" stroke="#ad9bd3" stroke-width="0.5" />
<line x1="119.22" y1="347.88" x2="119.22" y2="353.66" stroke="#ad9bd3" stroke-width="0.5" />
<line x1="47.67" y1="347.83" x2="47.67" y2="353.7" stroke="#ad9bd3" stroke-width="0.5" />
<line x1="63.23" y1="347.53" x2="63.23" y2="353.94" stroke="#ad9bd3" stroke-width="0.5" />
<line x1="130.23" y1="346.93" x2="130.23" y2="354.42" stroke="#ad9bd3" stroke-width="0.5" />
<line x1="120.43" y1="348.17" x2="120.43" y2="353.43" stroke="#ad9bd3" stroke-width="0.5" />
<line x1="18.8" y1="347.14" x2="18.8" y2="354.25" stroke="#ad9bd3" stroke-width="0.5" />
<line x1="123.19" y1="347.49" x2="123.19" y2="353.97" stroke="#ad9bd3" stroke-width="0.5" />
<line x1="85.89" y1="348.2" x2="85.89" y2="353.4" stroke="#ad9bd3" stroke-width="0.5" />
<line x1="62.23" y1="346.81" x2="62.23" y2="354.51" stroke="#ad9bd3" stroke-width="0.5" />
<line x1="114.71" y1="346.92" x2="114.71" y2="354.43" stroke="#ad9bd3" stroke-width="0.5" />
<line x1="132.44" y1="347.83" x2="132.44" y2="353.7" stroke="#ad9bd3" stroke-width="0.5" />
<line x1="28.08" y1="347.97" x2="28.08" y2="353.59" stroke="#ad9bd3" stroke-width="0.5" />
<line x1="78.05" y1="347.18" x2="78.05" y2="354.22" stroke="#ad9bd3" stroke-width="0.5" />
<line x1="128.73" y1="347.12" x2="128.73" y2="354.27" stroke="#ad9bd3" stroke-width="0.5" />
<line x1="93.16" y1="347.05" x2="93.16" y2="354.32" stroke="#ad9bd3" stroke-width="0.5" />
<line x1="70.19" y1="347.37" x2="70.19" y2="354.06" stroke="#ad9bd3" stroke-width="0.5" />
<line x1="19.68" y1="347.03" x2="19.68" y2="354.34" stroke="#ad9bd3" stroke-width="0.5" />
<line x1="43.02" y1="346.82" x2="43.02" y2="354.5" stroke="#ad9bd3" stroke-width="0.5" />
<line x1="92.94" y1="347.74" x2="92.94" y2="353.76" stroke="#ad9bd3" stroke-width="0.5" />
<line x1="30.37" y1="347.82" x2="30.37" y2="353.7" stroke="#ad9bd3" stroke-width="0.5" />
<line x1="91.83" y1="347.15" x2="91.83" y2="354.24" stroke="#ad9bd3" stroke-width="0.5" />
<line x1="28.46" y1="348.09" x2="28.46" y2="353.48" stroke="#ad9bd3" stroke-width="0.5" />
<line x1="78.3" y1="347.33" x2="78.3" y2="354.1" stroke="#ad9bd3" stroke-width="0.5" />
<line x1="61.82" y1="347.86" x2="61.82" y2="353.67" stroke="#ad9bd3" stroke-width="0.5" />
<line x1="87.57" y1="348.18" x2="87.57" y2="353.41" stroke="#ad9bd3" stroke-width="0.5" />
<line x1="51.35" y1="347.51" x2="51.35" y2="353.95" stroke="#ad9bd3" stroke-width="0.5" />
<line x1="130.84" y1="347.23" x2="130.84" y2="354.17" stroke="#ad9bd3" stroke-width="0.5" />
<line x1="121.75" y1="347.49" x2="121.75" y2="353.97" stroke="#ad9bd3" stroke-width="0.5" />
<line x1="43.28" y1="347.83" x2="43.28" y2="353.7" stroke="#ad9bd3" stroke-width="0.5" />
<line x1="131.04" y1="347.14" x2="131.04" y2="354.25" stroke="#ad9bd3" stroke-width="0.5" />
<line x1="52.06" y1="348.17" x2="52.06" y2="353.43" stroke="#ad9bd3" stroke-width="0.5" />
<line x1="75.15" y1="347.19" x2="75.15" y2="354.21" stroke="#ad9bd3" stroke-width="0.5" />
<line x1="65.68" y1="347.81" x2="65.68" y2="353.71" stroke="#ad9bd3" stroke-width="0.5" />
<line x1="95.58" y1="346.81" x2="95.58" y2="354.51" stroke="#ad9bd3" stroke-width="0.5" />
<line x1="42.32" y1="348.15" x2="42.32" y2="353.44" stroke="#ad9bd3" stroke-width="0.5" />
<line x1="55.77" y1="347.57" x2="55.77" y2="353.9" stroke="#ad9bd3" stroke-width="0.5" />
<line x1="97.42" y1="347.9" x2="97.42" y2="353.64" stroke="#ad9bd3" stroke-width="0.5" />
<line x1="111.27" y1="347.09" x2="111.27" y2="354.29" stroke="#ad9bd3" stroke-width="0.5" />
<line x1="75.94" y1="347.89" x2="75.94" y2="353.65" stroke="#ad9bd3" stroke-width="0.5" />
<line x1="132.16" y1="347.73" x2="132.16" y2="353.77" stroke="#ad9bd3" stroke-width="0.5" />
<line x1="114.04" y1="347.85" x2="114.04" y2="353.68" stroke="#ad9bd3" stroke-width="0.5" />
<line x1="41.67" y1="347.06" x2="41.67" y2="354.31" stroke="#ad9bd3" stroke-width="0.5" />
<line x1="50.56" y1="346.77" x2="50.56" y2="354.54" stroke="#ad9bd3" stroke-width="0.5" />
<line x1="74.84" y1="347.92" x2="74.84" y2="353.62" stroke="#ad9bd3" stroke-width="0.5" />
<line x1="41.9" y1="347.57" x2="41.9" y2="353.9" stroke="#ad9bd3" stroke-width="0.5" />
<line x1="95.33" y1="346.78" x2="95.33" y2="354.54" stroke="#ad9bd3" stroke-width="0.5" />
<line x1="32.6" y1="347.61" x2="32.6" y2="353.87" stroke="#ad9bd3" stroke-width="0.5" />
<line x1="40.65" y1="346.74" x2="40.65" y2="354.57" stroke="#ad9bd3" stroke-width="0.5" />
<line x1="32.06" y1="348.12" x2="32.06" y2="353.46" stroke="#ad9bd3" stroke-width="0.5" />
<line x1="22.17" y1="347.61" x2="22.17" y2="353.87" stroke="#ad9bd3" stroke-width="0.5" />
<line x1="123.49" y1="346.87" x2="123.49" y2="354.46" stroke="#ad9bd3" stroke-width="0.5" />
<line x1="103.49" y1="346.7" x2="103.49" y2="354.6" stroke="#ad9bd3" stroke-width="0.5" />
<line x1="127.53" y1="347.71" x2="127.53" y2="353.8" stroke="#ad9bd3" stroke-width="0.5" />
<line x1="37.33" y1="346.8" x2="37.33" y2="354.52" stroke="#ad9bd3" stroke-width="0.5" />
<line x1="105.13" y1="348.15" x2="105.13" y2="353.44" stroke="#ad9bd3" stroke-width="0.5" />
<line x1="95.23" y1="347.63" x2="95.23" y2="353.85" stroke="#ad9bd3" stroke-width="0.5" />
<line x1="60.1" y1="347.7" x2="60.1" y2="353.8" stroke="#ad9bd3" stroke-width="0.5" />
<line x1="35.36" y1="348.2" x2="35.36" y2="353.4" stroke="#ad9bd3" stroke-width="0.5" />
<line x1="48.73" y1="347.67" x2="48.73" y2="353.82" stroke="#ad9bd3" stroke-width="0.5" />
<line x1="130.42" y1="348.01" x2="130.42" y2="353.55" stroke="#ad9bd3" stroke-width="0.5" />
<line x1="131.48" y1="347.89" x2="131.48" y2="353.65" stroke="#ad9bd3" stroke-width="0.5" />
<line x1="58.02" y1="346.97" x2="58.02" y2="354.39" stroke="#ad9bd3" stroke-width="0.5" />
<line x1="114.28" y1="347.55" x2="114.28" y2="353.92" stroke="#ad9bd3" stroke-width="0.5" />
<line x1="20.86" y1="347.49" x2="20.86" y2="353.97" stroke="#ad9bd3" stroke-width="0.5" />
<line x1="59.96" y1="346.82" x2="59.96" y2="354.5" stroke="#ad9bd3" stroke-width="0.5" />
<line x1="38.24" y1="347.65" x2="38.24" y2="353.84" stroke="#ad9bd3" stroke-width="0.5" />
<line x1="123.35" y1="348.15" x2="123.35" y2="353.44" stroke="#ad9bd3" stroke-width="0.5" />
<line x1="64.57" y1="346.98" x2="64.57" y2="354.37" stroke="#ad9bd3" stroke-width="0.5" />
<line x1="107.59" y1="348.14" x2="107.59" y2="353.45" stroke="#ad9bd3" stroke-width="0.5" />
<line x1="19.11" y1="348.11" x2="19.11" y2="353.48" stroke="#ad9bd3" stroke-width="0.5" />
<line x1="126.14" y1="347.81" x2="126.14" y2="353.71" stroke="#ad9bd3" stroke-width="0.5" />
<line x1="105.25" y1="346.85" x2="105.25" y2="354.48" stroke="#ad9bd3" stroke-width="0.5" />
<line x1="55.89" y1="347.79" x2="55.89" y2="353.73" stroke="#ad9bd3" stroke-width="0.5" />
<line x1="130.68" y1="347.27" x2="130.68" y2="354.14" stroke="#ad9bd3" stroke-width="0.5" />
<line x1="46.6" y1="347.13" x2="46.6" y2="354.26" stroke="#ad9bd3" stroke-width="0.5" />
<line x1="53.16" y1="347.79" x2="53.16" y2="353.73" stroke="#ad9bd3" stroke-width="0.5" />
<line x1="15.36" y1="347.07" x2="15.36" y2="354.31" stroke="#ad9bd3" stroke-width="0.5" />
<line x1="125.7" y1="347.25" x2="125.7" y2="354.16" stroke="#ad9bd3" stroke-width="0.5" />
<line x1="128.94" y1="348.16" x2="128.94" y2="353.43" stroke="#ad9bd3" stroke-width="0.5" />
<line x1="43.17" y1="347.49" x2="43.17" y2="353.97" stroke="#ad9bd3" stroke-width="0.5" />
<line x1="130.57" y1="346.77" x2="130.57" y2="354.54" stroke="#ad9bd3" stroke-width="0.5" />
<line x1="61.63" y1="347.82" x2="61.63" y2="353.7" stroke="#ad9bd3" stroke-width="0.5" />
<line x1="66.88" y1="347.46" x2="66.88" y2="353.99" stroke="#ad9bd3" stroke-width="0.5" />
<line x1="127.11" y1="347.93" x2="127.11" y2="353.62" stroke="#ad9bd3" stroke-width="0.5" />
<line x1="111.93" y1="347.09" x2="111.93" y2="354.29" stroke="#ad9bd3" stroke-width="0.5" />
<line x1="114.37" y1="347.04" x2="114.37" y2="354.33" stroke="#ad9bd3" stroke-width="0.5" />
<line x1="88.32" y1="347.71" x2="88.32" y2="353.79" stroke="#ad9bd3" stroke-width="0.5" />
<line x1="53.53" y1="347.66" x2="53.53" y2="353.83" stroke="#ad9bd3" stroke-width="0.5" />
<line x1="109.47" y1="348.08" x2="109.47" y2="353.49" stroke="#ad9bd3" stroke-width="0.5" />
<line x1="38.75" y1="347.07" x2="38.75" y2="354.3" stroke="#ad9bd3" stroke-width="0.5" />
<line x1="44.8" y1="348.1" x2="44.8" y2="353.48" stroke="#ad9bd3" stroke-width="0.5" />
<line x1="18.99" y1="347.37" x2="18.99" y2="354.06" stroke="#ad9bd3" stroke-width="0.5" />
<line x1="54.28" y1="346.73" x2="54.28" y2="354.58" stroke="#ad9bd3" stroke-width="0.5" />
<line x1="121.71" y1="346.72" x2="121.71" y2="354.59" stroke="#ad9bd3" stroke-width="0.5" />
<line x1="46.93" y1="348.07" x2="46.93" y2="353.5" stroke="#ad9bd3" stroke-width="0.5" />
<line x1="26.56" y1="347.45" x2="26.56" y2="354.0" stroke="#ad9bd3" stroke-width="0.5" />
<line x1="100.71" y1="347.53" x2="100.71" y2="353.94" stroke="#ad9bd3" stroke-width="0.5" />
<line x1="43.21" y1="347.57" x2="43.21" y2="353.9" stroke="#ad9bd3" stroke-width="0.5" />
<line x1="89.9" y1="347.19" x2="89.9" y2="354.21" stroke="#ad9bd3" stroke-width="0.5" />
<line x1="105.33" y1="346.93" x2="105.33" y2="354.42" stroke="#ad9bd3" stroke-width="0.5" />
<line x1="95.23" y1="348.02" x2="95.23" y2="353.55" stroke="#ad9bd3" stroke-width="0.5" />
<line x1="116.56" y1="347.76" x2="116.56" y2="353.75" stroke="#ad9bd3" stroke-width="0.5" />
<line x1="83.44" y1="347.64" x2="83.44" y2="353.85" stroke="#ad9bd3" stroke-width="0.5" />
<line x1="104.13" y1="347.9" x2="104.13" y2="353.64" stroke="#ad9bd3" stroke-width="0.5" />
<line x1="44.81" y1="347.83" x2="44.81" y2="353.69" stroke="#ad9bd3" stroke-width="0.5" />
<line x1="33.44" y1="346.87" x2="33.44" y2="354.46" stroke="#ad9bd3" stroke-width="0.5" />
<line x1="84.81" y1="347.71" x2="84.81" y2="353.79" stroke="#ad9bd3" stroke-width="0.5" />
<line x1="62.78" y1="346.71" x2="62.78" y2="354.59" stroke="#ad9bd3" stroke-width="0.5" />
<line x1="76.24" y1="347.85" x2="76.24" y2="353.68" stroke="#ad9bd3" stroke-width="0.5" />
<line x1="112.64" y1="347.22" x2="112.64" y2="354.18" stroke="#ad9bd3" stroke-width="0.5" />
<line x1="134.71" y1="348.05" x2="134.71" y2="353.52" stroke="#ad9bd3" stroke-width="0.5" />
<line x1="72.3" y1="346.97" x2="72.3" y2="354.38" stroke="#ad9bd3" stroke-width="0.5" />
<line x1="116.52" y1="346.83" x2="116.52" y2="354.5" stroke="#ad9bd3" stroke-width="0.5" />
<line x1="19.78" y1="347.76" x2="19.78" y2="353.75" stroke="#ad9bd3" stroke-width="0.5" />
<line x1="29.31" y1="347.92" x2="29.31" y2="353.63" stroke="#ad9bd3" stroke-width="0.5" />
<line x1="132.53" y1="347.33" x2="132.53" y2="354.1" stroke="#ad9bd3" stroke-width="0.5" />
<line x1="127.36" y1="347.64" x2="127.36" y2="353.85" stroke="#ad9bd3" stroke-width="0.5" />
<line x1="119.61" y1="347.53" x2="119.61" y2="353.94" stroke="#ad9bd3" stroke-width="0.5" />
<line x1="46.33" y1="347.03" x2="46.33" y2="354.33" stroke="#ad9bd3" stroke-width="0.5" />
<line x1="129.24" y1="348.04" x2="129.24" y2="353.53" stroke="#ad9bd3" stroke-width="0.5" />
<line x1="86.97" y1="347.27" x2="86.97" y2="354.14" stroke="#ad9bd3" stroke-width="0.5" />
<line x1="41.21" y1="347.65" x2="41.21" y2="353.84" stroke="#ad9bd3" stroke-width="0.5" />
<line x1="31.99" y1="347.89" x2="31.99" y2="353.64" stroke="#ad9bd3" stroke-width="0.5" />
<line x1="45.72" y1="347.3" x2="45.72" y2="354.12" stroke="#ad9bd3" stroke-width="0.5" />
<line x1="93.68" y1="347.89" x2="93.68" y2="353.64" stroke="#ad9bd3" stroke-width="0.5" />
<line x1="16.28" y1="347.71" x2="16.28" y2="353.79" stroke="#ad9bd3" stroke-width="0.5" />
<line x1="96.91" y1="347.92" x2="96.91" y2="353.62" stroke="#ad9bd3" stroke-width="0.5" />
<line x1="52.64" y1="347.89" x2="52.64" y2="353.64" stroke="#ad9bd3" stroke-width="0.5" />
<line x1="111.05" y1="347.38" x2="111.05" y2="354.06" stroke="#ad9bd3" stroke-width="0.5" />
<line x1="22.55" y1="348.05" x2="22.55" y2="353.52" stroke="#ad9bd3" stroke-width="0.5" />
<line x1="62.69" y1="347.37" x2="62.69" y2="354.06" stroke="#ad9bd3" stroke-width="0.5" />
<line x1="92.18" y1="348.06" x2="92.18" y2="353.51" stroke="#ad9bd3" stroke-width="0.5" />
<line x1="34.69" y1="347.16" x2="34.69" y2="354.23" stroke="#ad9bd3" stroke-width="0.5" />
<line x1="64.44" y1="347.78" x2="64.44" y2="353.74" stroke="#ad9bd3" stroke-width="0.5" />
<line x1="52.09" y1="346.77" x2="52.09" y2="354.54" stroke="#ad9bd3" stroke-width="0.5" />
<line x1="52.66" y1="347.35" x2="52.66" y2="354.08" stroke="#ad9bd3" stroke-width="0.5" />
<line x1="58.08" y1="347.58" x2="58.08" y2="353.9" stroke="#ad9bd3" stroke-width="0.5" />
<line x1="119.39" y1="346.71" x2="119.39" y2="354.6" stroke="#ad9bd3" stroke-width="0.5" />
<line x1="58.88" y1="347.9" x2="58.88" y2="353.64" stroke="#ad9bd3" stroke-width="0.5" />
<line x1="102.92" y1="347.89" x2="102.92" y2="353.64" stroke="#ad9bd3" stroke-width="0.5" />
<line x1="15.61" y1="346.85" x2="15.61" y2="354.48" stroke="#ad9bd3" stroke-width="0.5" />
<line x1="66.13" y1="346.97" x2="66.13" y2="354.38" stroke="#ad9bd3" stroke-width="0.5" />
<line x1="64.01" y1="346.88" x2="64.01" y2="354.46" stroke="#ad9bd3" stroke-width="0.5" />
<line x1="70.62" y1="347.96" x2="70.62" y2="353.6" stroke="#ad9bd3" stroke-width="0.5" />
<line x1="16.69" y1="347.37" x2="16.69" y2="354.06" stroke="#ad9bd3" stroke-width="0.5" />
<line x1="92.36" y1="346.84" x2="92.36" y2="354.49" stroke="#ad9bd3" stroke-width="0.5" />
<line x1="25.66" y1="347.27" x2="25.66" y2="354.15" stroke="#ad9bd3" stroke-width="0.5" />
<line x1="59.73" y1="347.44" x2="59.73" y2="354.01" stroke="#ad9bd3" stroke-width="0.5" />
<line x1="32.54" y1="347.78" x2="32.54" y2="353.74" stroke="#ad9bd3" stroke-width="0.5" />
<line x1="77.91" y1="346.81" x2="77.91" y2="354.51" stroke="#ad9bd3" stroke-width="0.5" />
<line x1="28.05" y1="347.46" x2="28.05" y2="353.99" stroke="#ad9bd3" stroke-width="0.5" />
<line x1="112.2" y1="346.75" x2="112.2" y2="354.56" stroke="#ad9bd3" stroke-width="0.5" />
<line x1="38.76" y1="348.01" x2="38.76" y2="353.55" stroke="#ad9bd3" stroke-width="0.5" />
<line x1="128.92" y1="346.74" x2="128.92" y2="354.57" stroke="#ad9bd3" stroke-width="0.5" />
<line x1="73.26" y1="348.12" x2="73.26" y2="353.46" stroke="#ad9bd3" stroke-width="0.5" />
<line x1="126.87" y1="347.62" x2="126.87" y2="353.87" stroke="#ad9bd3" stroke-width="0.5" />
<line x1="124.22" y1="347.27" x2="124.22" y2="354.14" stroke="#ad9bd3" stroke-width="0.5" />
<line x1="114.59" y1="347.96" x2="114.59" y2="353.59" stroke="#ad9bd3" stroke-width="0.5" />
<line x1="109.91" y1="347.87" x2="109.91" y2="353.67" stroke="#ad9bd3" stroke-width="0.5" />
<line x1="63.8" y1="346.93" x2="63.8" y2="354.42" stroke="#ad9bd3" stroke-width="0.5" />
<line x1="115.15" y1="347.93" x2="115.15" y2="353.62" stroke="#ad9bd3" stroke-width="0.5" />
<line x1="41.27" y1="347.6" x2="41.27" y2="353.88" stroke="#ad9bd3" stroke-width="0.5" />
<line x1="77.51" y1="347.62" x2="77.51" y2="353.86" stroke="#ad9bd3" stroke-width="0.5" />
<line x1="29.78" y1="347.83" x2="29.78" y2="353.7" stroke="#ad9bd3" stroke-width="0.5" />
<line x1="102.54" y1="346.85" x2="102.54" y2="354.48" stroke="#ad9bd3" stroke-width="0.5" />
<line x1="19.87" y1="347.36" x2="19.87" y2="354.07" stroke="#ad9bd3" stroke-width="0.5" />
<line x1="106.48" y1="348.14" x2="106.48" y2="353.45" stroke="#ad9bd3" stroke-width="0.5" />
<line x1="116.24" y1="348.02" x2="116.24" y2="353.54" stroke="#ad9bd3" stroke-width="0.5" />
<line x1="87.38" y1="347.37" x2="87.38" y2="354.06" stroke="#ad9bd3" stroke-width="0.5" />
<line x1="90.71" y1="347.74" x2="90.71" y2="353.77" stroke="#ad9bd3" stroke-width="0.5" />
<line x1="65.69" y1="347.33" x2="65.69" y2="354.1" stroke="#ad9bd3" stroke-width="0.5" />
<line x1="66.37" y1="347.21" x2="66.37" y2="354.19" stroke="#ad9bd3" stroke-width="0.5" />
<line x1="68.92" y1="347.54" x2="68.92" y2="353.93" stroke="#ad9bd3" stroke-width="0.5" />
<line x1="17.73" y1="347.27" x2="17.73" y2="354.14" stroke="#ad9bd3" stroke-width="0.5" />
<line x1="74.08" y1="347.85" x2="74.08" y2="353.68" stroke="#ad9bd3" stroke-width="0.5" />
<line x1="107.22" y1="347.03" x2="107.22" y2="354.34" stroke="#ad9bd3" stroke-width="0.5" />
<line x1="70.31" y1="347.93" x2="70.31" y2="353.62" stroke="#ad9bd3" stroke-width="0.5" />
<line x1="72.11" y1="348.04" x2="72.11" y2="353.53" stroke="#ad9bd3" stroke-width="0.5" />
<line x1="30.43" y1="347.55" x2="30.43" y2="353.92" stroke="#ad9bd3" stroke-width="0.5" />
<line x1="25.99" y1="347.54" x2="25.99" y2="353.93" stroke="#ad9bd3" stroke-width="0.5" />
<line x1="76.58" y1="348.14" x2="76.58" y2="353.45" stroke="#ad9bd3" stroke-width="0.5" />
<line x1="91.85" y1="348.08" x2="91.85" y2="353.5" stroke="#ad9bd3" stroke-width="0.5" />
<line x1="103.58" y1="347.03" x2="103.58" y2="354.33" stroke="#ad9bd3" stroke-width="0.5" />
<line x1="76.74" y1="348.12" x2="76.74" y2="353.47" stroke="#ad9bd3" stroke-width="0.5" />
<line x1="75.82" y1="347.63" x2="75.82" y2="353.85" stroke="#ad9bd3" stroke-width="0.5" />
<line x1="129.86" y1="348.0" x2="129.86" y2="353.56" stroke="#ad9bd3" stroke-width="0.5" />
<line x1="118.52" y1="346.71" x2="118.52" y2="354.6" stroke="#ad9bd3" stroke-width="0.5" />
<line x1="103.41" y1="346.98" x2="103.41" y2="354.38" stroke="#ad9bd3" stroke-width="0.5" />
<line x1="38.32" y1="346.73" x2="38.32" y2="354.58" stroke="#ad9bd3" stroke-width="0.5" />
<line x1="74.37" y1="346.77" x2="74.37" y2="354.55" stroke="#ad9bd3" stroke-width="0.5" />
<line x1="125.65" y1="347.95" x2="125.65" y2="353.6" stroke="#ad9bd3" stroke-width="0.5" />
<line x1="110.22" y1="346.8" x2="110.22" y2="354.52" stroke="#ad9bd3" stroke-width="0.5" />
<line x1="22.82" y1="347.67" x2="22.82" y2="353.82" stroke="#ad9bd3" stroke-width="0.5" />
<line x1="106.32" y1="347.96" x2="106.32" y2="353.59" stroke="#ad9bd3" stroke-width="0.5" />
<line x1="123.29" y1="347.79" x2="123.29" y2="353.73" stroke="#ad9bd3" stroke-width="0.5" />
<line x1="113.51" y1="347.98" x2="113.51" y2="353.57" stroke="#ad9bd3" stroke-width="0.5" />
<line x1="75.62" y1="346.82" x2="75.62" y2="354.5" stroke="#ad9bd3" stroke-width="0.5" />
<line x1="40.09" y1="347.81" x2="40.09" y2="353.72" stroke="#ad9bd3" stroke-width="0.5" />
<line x1="76.08" y1="347.72" x2="76.08" y2="353.78" stroke="#ad9bd3" stroke-width="0.5" />
<line x1="19.35" y1="347.93" x2="19.35" y2="353.62" stroke="#ad9bd3" stroke-width="0.5" />
<line x1="34.39" y1="346.8" x2="34.39" y2="354.52" stroke="#ad9bd3" stroke-width="0.5" />
<line x1="97.07" y1="346.86" x2="97.07" y2="354.47" stroke="#ad9bd3" stroke-width="0.5" />
<line x1="35.3" y1="347.02" x2="35.3" y2="354.34" stroke="#ad9bd3" stroke-width="0.5" />
<line x1="28.81" y1="347.4" x2="28.81" y2="354.04" stroke="#ad9bd3" stroke-width="0.5" />
<line x1="91.83" y1="347.66" x2="91.83" y2="353.83" stroke="#ad9bd3" stroke-width="0.5" />
<line x1="120.44" y1="347.37" x2="120.44" y2="354.07" stroke="#ad9bd3" stroke-width="0.5" />
<line x1="85.03" y1="346.88" x2="85.03" y2="354.46" stroke="#ad9bd3" stroke-width="0.5" />
<line x1="27.55" y1="346.71" x2="27.55" y2="354.59" stroke="#ad9bd3" stroke-width="0.5" />
<line x1="91.04" y1="347.61" x2="91.04" y2="353.87" stroke="#ad9bd3" stroke-width="0.5" />
<line x1="111.34" y1="347.8" x2="111.34" y2="353.72" stroke="#ad9bd3" stroke-width="0.5" />
<line x1="134.65" y1="347.33" x2="134.65" y2="354.09" stroke="#ad9bd3" stroke-width="0.5" />
<line x1="58.45" y1="347.05" x2="58.45" y2="354.32" stroke="#ad9bd3" stroke-width="0.5" />
<line x1="68.37" y1="347.93" x2="68.37" y2="353.61" stroke="#ad9bd3" stroke-width="0.5" />
<line x1="104.8" y1="348.13" x2="104.8" y2="353.46" stroke="#ad9bd3" stroke-width="0.5" />
<line x1="114.02" y1="347.82" x2="114.02" y2="353.7" stroke="#ad9bd3" stroke-width="0.5" />
<line x1="92.18" y1="346.72" x2="92.18" y2="354.58" stroke="#ad9bd3" stroke-width="0.5" />
<line x1="85.73" y1="347.2" x2="85.73" y2="354.2" stroke="#ad9bd3" stroke-width="0.5" />
<line x1="52.7" y1="348.2" x2="52.7" y2="353.4" stroke="#ad9bd3" stroke-width="0.5" />
<line x1="18.99" y1="347.98" x2="18.99" y2="353.58" stroke="#ad9bd3" stroke-width="0.5" />
<line x1="89.38" y1="347.55" x2="89.38" y2="353.92" stroke="#ad9bd3" stroke-width="0.5" />
<line x1="76.88" y1="346.86" x2="76.88" y2="354.47" stroke="#ad9bd3" stroke-width="0.5" />
<line x1="30.86" y1="347.86" x2="30.86" y2="353.67" stroke="#ad9bd3" stroke-width="0.5" />
<line x1="93.86" y1="348.17" x2="93.86" y2="353.43" stroke="#ad9bd3" stroke-width="0.5" />
<line x1="15.22" y1="347.67" x2="15.22" y2="353.83" stroke="#ad9bd3" stroke-width="0.5" />
<line x1="27.76" y1="347.66" x2="27.76" y2="353.83" stroke="#ad9bd3" stroke-width="0.5" />
<line x1="42.01" y1="347.32" x2="42.01" y2="354.1" stroke="#ad9bd3" stroke-width="0.5" />
<line x1="86.12" y1="347.89" x2="86.12" y2="353.65" stroke="#ad9bd3" stroke-width="0.5" />
<line x1="90.33" y1="347.49" x2="90.33" y2="353.97" stroke="#ad9bd3" stroke-width="0.5" />
<line x1="31.19" y1="346.8" x2="31.19" y2="354.52" stroke="#ad9bd3" stroke-width="0.5" />
<line x1="44.35" y1="347.98" x2="44.35" y2="353.58" stroke="#ad9bd3" stroke-width="0.5" />
<line x1="26.48" y1="347.24" x2="26.48" y2="354.17" stroke="#ad9bd3" stroke-width="0.5" />
<line x1="120.24" y1="347.03" x2="120.24" y2="354.34" stroke="#ad9bd3" stroke-width="0.5" />
<line x1="63.5" y1="347.8" x2="63.5" y2="353.72" stroke="#ad9bd3" stroke-width="0.5" />
<line x1="16.29" y1="347.23" x2="16.29" y2="354.17" stroke="#ad9bd3" stroke-width="0.5" />
<line x1="82.89" y1="347.67" x2="82.89" y2="353.82" stroke="#ad9bd3" stroke-width="0.5" />
<line x1="92.95" y1="347.53" x2="92.95" y2="353.93" stroke="#ad9bd3" stroke-width="0.5" />
<line x1="128.2" y1="347.1" x2="128.2" y2="354.28" stroke="#ad9bd3" stroke-width="0.5" />
<line x1="44.94" y1="346.84" x2="44.94" y2="354.48" stroke="#ad9bd3" stroke-width="0.5" />
<line x1="20.22" y1="347.4" x2="20.22" y2="354.04" stroke="#ad9bd3" stroke-width="0.5" />
<line x1="63.98" y1="347.84" x2="63.98" y2="353.69" stroke="#ad9bd3" stroke-width="0.5" />
<line x1="21.96" y1="347.03" x2="21.96" y2="354.33" stroke="#ad9bd3" stroke-width="0.5" />
<line x1="16.39" y1="347.37" x2="16.39" y2="354.06" stroke="#ad9bd3" stroke-width="0.5" />
<line x1="128.66" y1="347.99" x2="128.66" y2="353.57" stroke="#ad9bd3" stroke-width="0.5" />
<line x1="39.02" y1="347.29" x2="39.02" y2="354.13" stroke="#ad9bd3" stroke-width="0.5" />
<line x1="76.19" y1="347.24" x2="76.19" y2="354.17" stroke="#ad9bd3" stroke-width="0.5" />
<rect x="14.9" y="348.2" width="120.9" height="5.199999999999989" fill="#a38fcb"/>
<path d="M137.3,354 L137.3,366.1 L148.9,366.1" fill="none" stroke="#333" stroke-width="1"/>
<line x1="216.6" y1="227.4" x2="216.6" y2="438" stroke="#6a6a6a" stroke-width="1.2" />
<line x1="216.0" y1="438" x2="290" y2="438" stroke="#6a6a6a" stroke-width="1.2" />
<line x1="212.1" y1="430.0" x2="216.6" y2="430.0" stroke="#777" stroke-width="1.1" />
<text transform="translate(211.1,434.1) scale(0.93,1)" font-size="12.2" text-anchor="end" fill="#222" font-weight="normal" >0</text>
<line x1="212.1" y1="398.8666666666667" x2="216.6" y2="398.8666666666667" stroke="#777" stroke-width="1.1" />
<text transform="translate(211.1,402.9666666666667) scale(0.93,1)" font-size="12.2" text-anchor="end" fill="#222" font-weight="normal" >2</text>
<line x1="212.1" y1="367.73333333333335" x2="216.6" y2="367.73333333333335" stroke="#777" stroke-width="1.1" />
<text transform="translate(211.1,371.83333333333337) scale(0.93,1)" font-size="12.2" text-anchor="end" fill="#222" font-weight="normal" >4</text>
<line x1="212.1" y1="336.59999999999997" x2="216.6" y2="336.59999999999997" stroke="#777" stroke-width="1.1" />
<text transform="translate(211.1,340.7) scale(0.93,1)" font-size="12.2" text-anchor="end" fill="#222" font-weight="normal" >6</text>
<line x1="212.1" y1="305.46666666666664" x2="216.6" y2="305.46666666666664" stroke="#777" stroke-width="1.1" />
<text transform="translate(211.1,309.56666666666666) scale(0.93,1)" font-size="12.2" text-anchor="end" fill="#222" font-weight="normal" >8</text>
<line x1="212.1" y1="274.33333333333337" x2="216.6" y2="274.33333333333337" stroke="#777" stroke-width="1.1" />
<text transform="translate(211.1,278.4333333333334) scale(0.93,1)" font-size="12.2" text-anchor="end" fill="#222" font-weight="normal" >10</text>
<line x1="212.1" y1="243.19999999999996" x2="216.6" y2="243.19999999999996" stroke="#777" stroke-width="1.1" />
<text transform="translate(211.1,247.29999999999995) scale(0.93,1)" font-size="12.2" text-anchor="end" fill="#222" font-weight="normal" >12</text>
<line x1="219.4" y1="430.3" x2="290" y2="430.3" stroke="#d0d0d0" stroke-width="1" stroke-dasharray="1.2,2.1"/>
<line x1="239.9" y1="438" x2="239.9" y2="441" stroke="#777" stroke-width="1.1" />
<line x1="268.5" y1="438" x2="268.5" y2="441" stroke="#777" stroke-width="1.1" />
<text transform="translate(239.9,452.7)" font-size="11.2" text-anchor="middle" fill="#222" font-weight="normal" >0</text>
<text transform="translate(265.2,452.7)" font-size="11.3" text-anchor="start" fill="#222" font-weight="normal" >1 (mg/kg)</text>
<text transform="translate(191.4,324.9) rotate(-90) scale(0.955,1)" font-size="14.8" text-anchor="middle" fill="#222" font-weight="normal" >Firing Rate (Hz)</text>
<line x1="237.1" y1="229.2" x2="264.7" y2="229.2" stroke="#111" stroke-width="1.3" />
<text transform="translate(250.5,227.2)" font-size="16.5" text-anchor="middle" fill="#111" font-weight="normal" >**</text>
<rect x="229.8" y="348.2" width="19.6" height="65.0" fill="url(#hg)" stroke="#111" stroke-width="1.3"/>
<line x1="229.8" y1="396.2" x2="249.4" y2="396.2" stroke="#111" stroke-width="1.3" />
<line x1="239.7" y1="324.2" x2="239.7" y2="348.2" stroke="#111" stroke-width="1.3" />
<line x1="239.7" y1="413.2" x2="239.7" y2="421.7" stroke="#111" stroke-width="1.3" />
<line x1="234" y1="324.2" x2="245.6" y2="324.2" stroke="#111" stroke-width="1.3" />
<line x1="234" y1="421.7" x2="245.4" y2="421.7" stroke="#111" stroke-width="1.3" />
<circle cx="239.7" cy="324" r="1.65" fill="#111"/>
<circle cx="239.7" cy="328.3" r="1.65" fill="#111"/>
<circle cx="239.7" cy="347.8" r="1.65" fill="#111"/>
<circle cx="239.7" cy="357.3" r="1.65" fill="#111"/>
<circle cx="239.7" cy="383.3" r="1.65" fill="#111"/>
<circle cx="239.7" cy="396.2" r="1.65" fill="#111"/>
<circle cx="236.7" cy="408.2" r="1.65" fill="#111"/>
<circle cx="242.6" cy="408.2" r="1.65" fill="#111"/>
<circle cx="236.7" cy="413.8" r="1.65" fill="#111"/>
<circle cx="242.6" cy="413.8" r="1.65" fill="#111"/>
<circle cx="239.7" cy="421.7" r="1.65" fill="#111"/>
<rect x="258.4" y="414.2" width="20.2" height="10.900000000000034" fill="url(#hp)" stroke="#8f78c4" stroke-width="1.3"/>
<line x1="258.4" y1="419.5" x2="278.6" y2="419.5" stroke="#8f78c4" stroke-width="1.2" />
<line x1="268.4" y1="393.6" x2="268.4" y2="414.2" stroke="#8f78c4" stroke-width="1.2" />
<line x1="268.4" y1="425.1" x2="268.4" y2="429.1" stroke="#8f78c4" stroke-width="1.2" />
<line x1="263.2" y1="393.6" x2="274.3" y2="393.6" stroke="#8f78c4" stroke-width="1.2" />
<line x1="263.2" y1="429.1" x2="274.3" y2="429.1" stroke="#8f78c4" stroke-width="1.2" />
<circle cx="268.4" cy="393.6" r="1.65" fill="#111"/>
<circle cx="265.5" cy="400.8" r="1.65" fill="#111"/>
<circle cx="271.7" cy="401.4" r="1.65" fill="#111"/>
<circle cx="262.5" cy="414" r="1.65" fill="#111"/>
<circle cx="268.4" cy="414.2" r="1.65" fill="#111"/>
<circle cx="274.3" cy="413.7" r="1.65" fill="#111"/>
<circle cx="265.5" cy="418.6" r="1.65" fill="#111"/>
<circle cx="259.5" cy="419.9" r="1.65" fill="#111"/>
<circle cx="271.7" cy="420.5" r="1.65" fill="#111"/>
<circle cx="277.6" cy="419.5" r="1.65" fill="#111"/>
<circle cx="265.5" cy="422.5" r="1.65" fill="#111"/>
<circle cx="259.5" cy="426" r="1.65" fill="#111"/>
<circle cx="265.5" cy="425.8" r="1.65" fill="#111"/>
<circle cx="271.7" cy="426.8" r="1.65" fill="#111"/>
<circle cx="277.6" cy="425.8" r="1.65" fill="#111"/>
<circle cx="265.5" cy="429.3" r="1.65" fill="#111"/>
<line x1="310.2" y1="229.2" x2="310.2" y2="336.3" stroke="#222" stroke-width="1.2" />
<line x1="310.2" y1="336.3" x2="391.7" y2="336.3" stroke="#222" stroke-width="1.2" />
<line x1="312" y1="336.3" x2="312" y2="338.7" stroke="#222" stroke-width="1.1" />
<line x1="351.4" y1="336.3" x2="351.4" y2="338.7" stroke="#222" stroke-width="1.1" />
<line x1="390.8" y1="336.3" x2="390.8" y2="338.7" stroke="#222" stroke-width="1.1" />
<text transform="translate(311.8,350.5)" font-size="10.2" text-anchor="middle" fill="#222" font-weight="normal" >0</text>
<text transform="translate(351.4,350.5)" font-size="10.2" text-anchor="middle" fill="#222" font-weight="normal" >5</text>
<text transform="translate(389.0,350.5)" font-size="10.2" text-anchor="middle" fill="#222" font-weight="normal" >10</text>
<text transform="translate(354.9,365.8)" font-size="12" text-anchor="middle" fill="#222" font-weight="normal" >Firing Rate (Hz)</text>
<line x1="311" y1="234.3" x2="389.9" y2="234.3" stroke="#c4c4c4" stroke-width="0.8" stroke-dasharray="2.6,3.6"/>
<path d="M310.9,331.3 L316.5,331.3 L316.5,322.5 L320.5,322.5 L320.5,304.8 L323.2,304.8 L323.4,287 L329.9,287 L329.9,278.1 L335.7,278.1 L335.7,269.3 L348.9,269.3 L348.9,260.6 L354.2,260.6 L354.2,251.8 L364,251.8 L364,243 L365.8,243 L365.8,234.3 L389.9,234.3" fill="none" stroke="#111" stroke-width="1.3"/>
<path d="M310.6,331 L312.6,330.5 L313.8,315.7 L314.6,300.6 L316.3,285.5 L317.6,270.4 L318.9,260.3 L320.6,251.5 L327.2,251.5 L327.2,240.1 L330.2,240.1 L330.2,234.3 L389.9,234.3" fill="none" stroke="#c2acE6" stroke-width="1.0"/>
<line x1="505.0" y1="227.9" x2="505.0" y2="437" stroke="#8c8c8c" stroke-width="1.3" />
<line x1="505.0" y1="437" x2="577" y2="437" stroke="#8c8c8c" stroke-width="1.3" />
<line x1="500.2" y1="427.3" x2="505.0" y2="427.3" stroke="#8c8c8c" stroke-width="1.1" />
<text transform="translate(495.9,431.1) scale(0.96,1)" font-size="12.1" text-anchor="end" fill="#222" font-weight="normal" >0</text>
<line x1="500.2" y1="327.8" x2="505.0" y2="327.8" stroke="#8c8c8c" stroke-width="1.1" />
<text transform="translate(494.3,331.6) scale(0.96,1)" font-size="12.1" text-anchor="end" fill="#222" font-weight="normal" >50</text>
<line x1="500.2" y1="228.3" x2="505.0" y2="228.3" stroke="#8c8c8c" stroke-width="1.1" />
<text transform="translate(498.1,232.10000000000002) scale(0.96,1)" font-size="12.1" text-anchor="end" fill="#222" font-weight="normal" >100</text>
<line x1="507" y1="427.3" x2="578" y2="427.3" stroke="#d0d0d0" stroke-width="1" stroke-dasharray="1.2,2.1"/>
<line x1="528.4" y1="437" x2="528.4" y2="440" stroke="#8c8c8c" stroke-width="1.1" />
<line x1="556" y1="437" x2="556" y2="440" stroke="#8c8c8c" stroke-width="1.1" />
<text transform="translate(527.4,451.8)" font-size="11.2" text-anchor="middle" fill="#222" font-weight="normal" >0</text>
<text transform="translate(552.9,451.8)" font-size="11.7" text-anchor="start" fill="#222" font-weight="normal" >1 (mg/kg)</text>
<text transform="translate(474.9,330.5) rotate(-90) scale(0.93,1)" font-size="14.3" text-anchor="middle" fill="#222" font-weight="normal" >Burst (% SWB)</text>
<line x1="526" y1="227.9" x2="553.5" y2="227.9" stroke="#333" stroke-width="1.4" />
<text transform="translate(540.0,225.4)" font-size="17" text-anchor="middle" fill="#111" font-weight="normal" >*</text>
<rect x="518.6" y="298.4" width="20" height="103.40000000000003" fill="url(#hg)" stroke="#111" stroke-width="1.3"/>
<line x1="518.6" y1="378.4" x2="538.6" y2="378.4" stroke="#111" stroke-width="1.3" />
<line x1="528.4" y1="248.4" x2="528.4" y2="298.4" stroke="#111" stroke-width="1.3" />
<line x1="528.4" y1="401.8" x2="528.4" y2="427.3" stroke="#111" stroke-width="1.3" />
<line x1="522.8" y1="248.4" x2="534.2" y2="248.4" stroke="#111" stroke-width="1.3" />
<line x1="522.7" y1="427.3" x2="534" y2="427.3" stroke="#111" stroke-width="1.3" />
<circle cx="528.4" cy="248.4" r="1.65" fill="#111"/>
<circle cx="528.4" cy="267.7" r="1.65" fill="#111"/>
<circle cx="528.4" cy="298.4" r="1.65" fill="#111"/>
<circle cx="528.4" cy="306.3" r="1.65" fill="#111"/>
<circle cx="528.4" cy="348.2" r="1.65" fill="#111"/>
<circle cx="528.4" cy="378.4" r="1.65" fill="#111"/>
<circle cx="522.3" cy="401.8" r="1.65" fill="#111"/>
<circle cx="528.4" cy="401.8" r="1.65" fill="#111"/>
<circle cx="534.9" cy="401.8" r="1.65" fill="#111"/>
<circle cx="528.4" cy="407.4" r="1.65" fill="#111"/>
<circle cx="528.4" cy="427.3" r="1.65" fill="#111"/>
<rect x="546.6" y="331.4" width="19.8" height="95.90000000000003" fill="url(#hp)" stroke="#8f78c4" stroke-width="1.3"/>
<line x1="556.2" y1="274.7" x2="556.2" y2="331.4" stroke="#8f78c4" stroke-width="1.2" />
<line x1="550.5" y1="274.7" x2="561.8" y2="274.7" stroke="#8f78c4" stroke-width="1.2" />
<circle cx="555.8" cy="274.7" r="1.65" fill="#111"/>
<circle cx="555.8" cy="305.3" r="1.65" fill="#111"/>
<circle cx="555.8" cy="309.3" r="1.65" fill="#111"/>
<circle cx="555.8" cy="326.3" r="1.65" fill="#111"/>
<circle cx="555.8" cy="343.5" r="1.65" fill="#111"/>
<circle cx="556.2" cy="414.3" r="1.65" fill="#111"/>
<line x1="546.4" y1="427.3" x2="566.7" y2="427.3" stroke="#111" stroke-width="2.6" />
<line x1="597.6" y1="227.7" x2="597.6" y2="335.3" stroke="#222" stroke-width="1.2" />
<line x1="597.6" y1="335.3" x2="677.1" y2="335.3" stroke="#222" stroke-width="1.2" />
<line x1="600.8" y1="335.3" x2="600.8" y2="337.6" stroke="#222" stroke-width="1.1" />
<line x1="638.5" y1="335.3" x2="638.5" y2="337.6" stroke="#222" stroke-width="1.1" />
<line x1="676.6" y1="335.3" x2="676.6" y2="337.6" stroke="#222" stroke-width="1.1" />
<text transform="translate(599.6,349.6)" font-size="10.2" text-anchor="middle" fill="#222" font-weight="normal" >0</text>
<text transform="translate(637.4,349.6)" font-size="10.2" text-anchor="middle" fill="#222" font-weight="normal" >50</text>
<text transform="translate(676.7,349.6)" font-size="10.2" text-anchor="middle" fill="#222" font-weight="normal" >100</text>
<text transform="translate(643.0,366.3)" font-size="12.2" text-anchor="middle" fill="#222" font-weight="normal" >Burst (%SWB)</text>
<line x1="600" y1="232.1" x2="677.1" y2="232.1" stroke="#c4c4c4" stroke-width="0.8" stroke-dasharray="2.6,3.6"/>
<path d="M601.1,329 L601.1,321.2 L608.7,321.2 L608.7,312.5 L611,312.5 L611,285.1 L619.4,285.1 L619.4,276.6 L631,276.6 L631,267.6 L647.1,267.6 L647.1,259 L650.1,259 L650.1,250.3 L661.8,250.3 L661.8,241.3 L669.4,241.3 L669.4,232.1" fill="none" stroke="#111" stroke-width="1.3"/>
<path d="M597.6,329.4 L600.9,329.4 L600.9,269.3 L605.4,269.3 L605.4,262.3 L632.8,262.3 L632.8,256.2 L639.4,256.2 L639.4,250 L645.3,250 L645.3,244.1 L647.5,244.1 L647.5,238.2 L659.6,238.2 L659.6,232.1 L677.1,232.1" fill="none" stroke="#c2ace6" stroke-width="1.1"/>
</svg>
</body></html>
